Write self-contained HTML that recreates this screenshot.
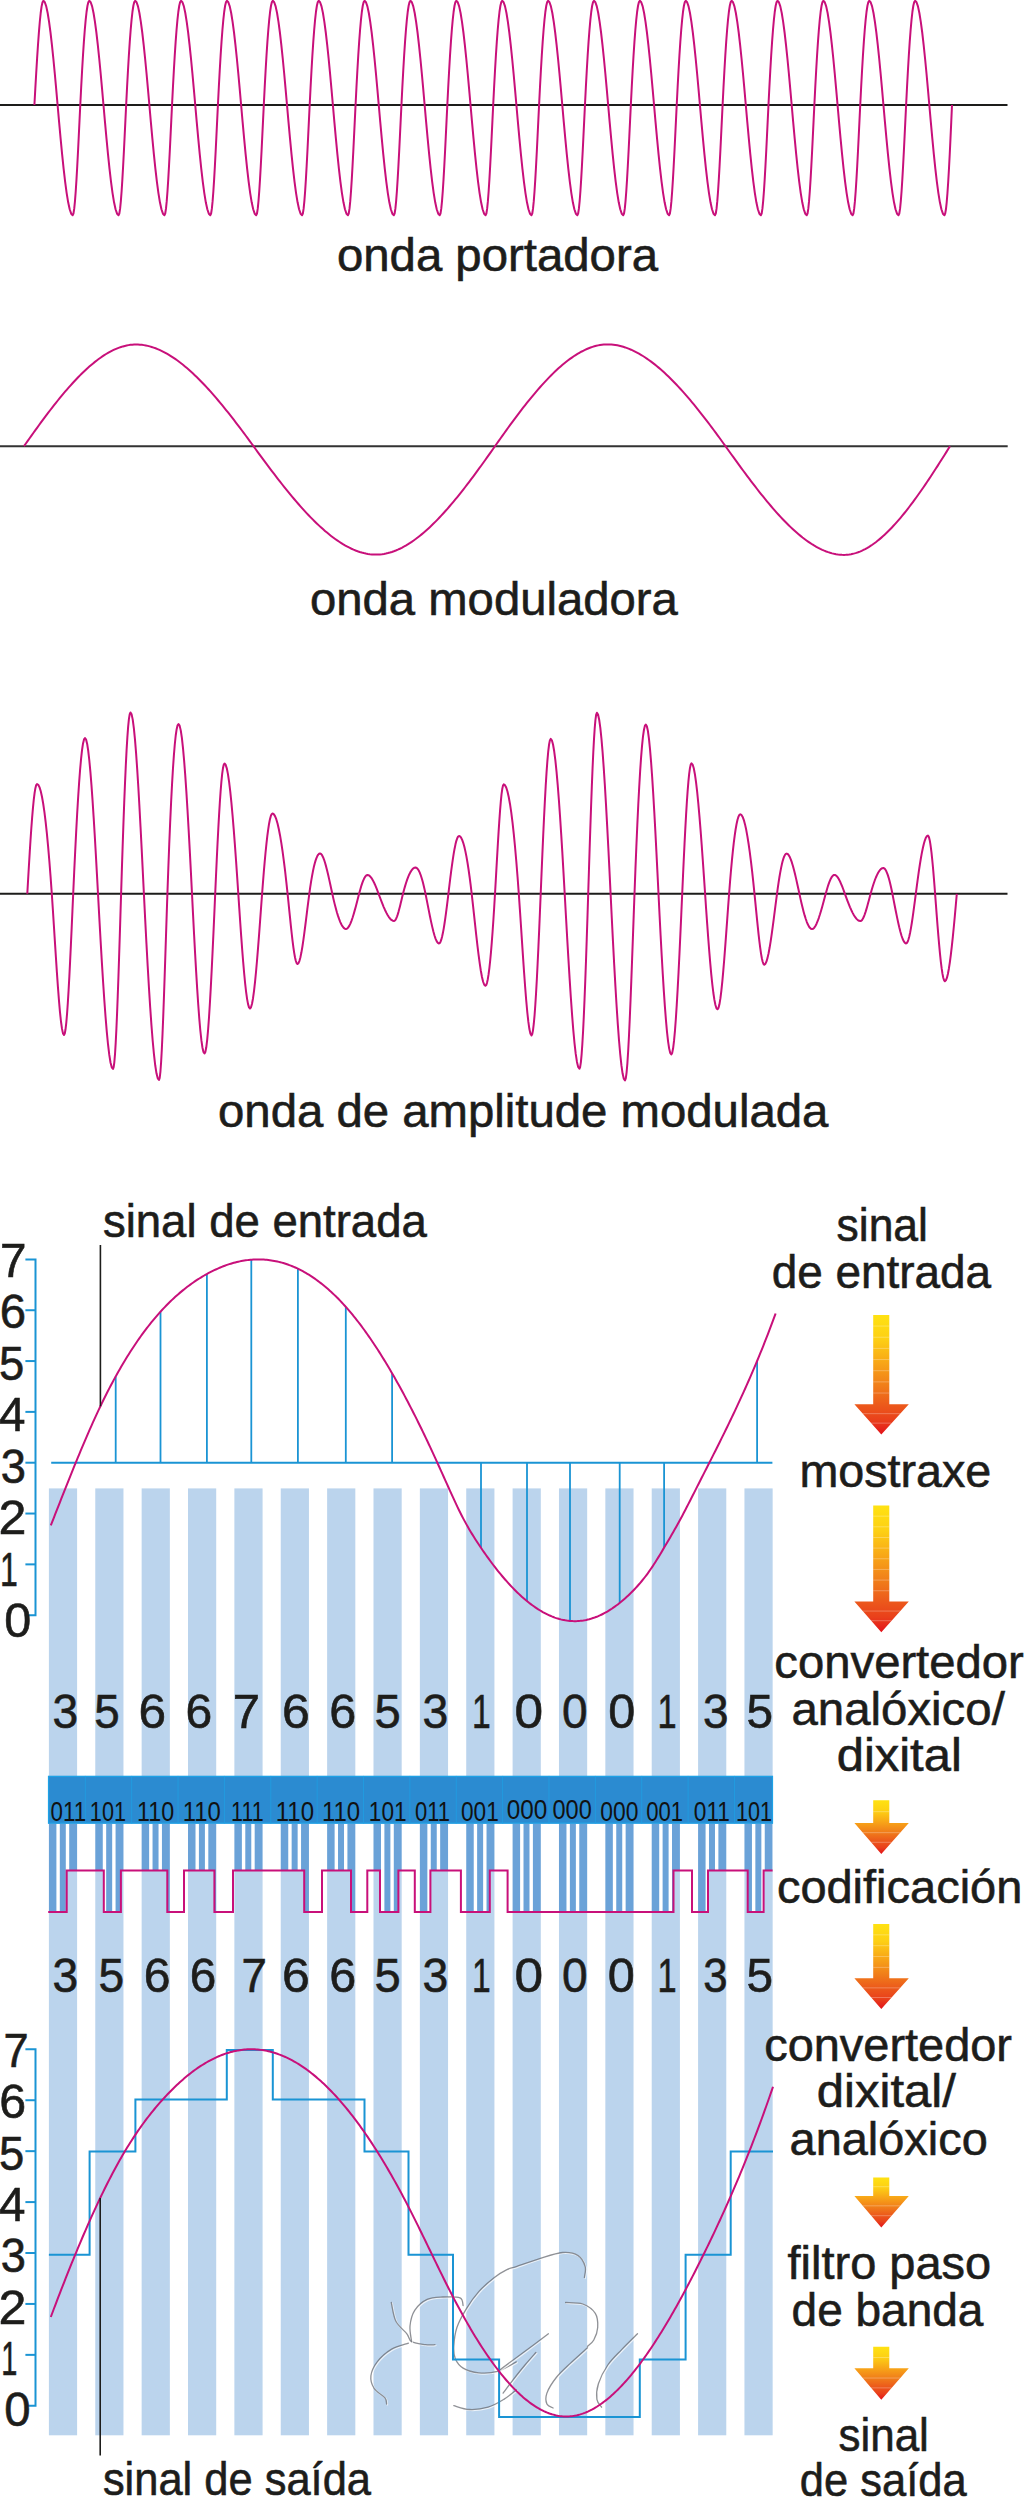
<!DOCTYPE html>
<html><head><meta charset="utf-8"><style>html,body{margin:0;padding:0;background:#fff;width:1024px;height:2499px;overflow:hidden}svg{display:block}</style></head>
<body><svg width="1024" height="2499" viewBox="0 0 1024 2499">
<defs></defs>
<rect width="1024" height="2499" fill="#fff"/>
<line x1="0" y1="105" x2="1007.5" y2="105" stroke="#1d1d1b" stroke-width="2"/>
<path d="M34.4 105 L35.3 88.82 L36.2 73.21 L37.1 58.43 L38 44.75 L38.9 32.44 L39.8 21.77 L40.7 13 L41.6 6.4 L42.5 2.24 L43.4 0.8 L44.82 2.25 L46.24 6.41 L47.66 13.02 L49.08 21.81 L50.5 32.5 L51.92 44.82 L53.34 58.5 L54.76 73.27 L56.18 88.86 L57.6 105 L59.11 122.15 L60.62 138.68 L62.13 154.32 L63.64 168.79 L65.15 181.8 L66.66 193.07 L68.17 202.33 L69.68 209.29 L71.19 213.68 L72.7 215.2 L73.46 213.5 L74.22 208.68 L74.97 201.13 L75.73 191.24 L76.49 179.41 L77.25 166.03 L78.01 151.51 L78.76 136.23 L79.52 120.6 L80.28 105 L81.18 87.23 L82.08 70.69 L82.98 55.53 L83.88 41.91 L84.78 29.97 L85.68 19.87 L86.58 11.75 L87.48 5.77 L88.38 2.07 L89.28 0.8 L90.7 2.25 L92.12 6.41 L93.54 13.02 L94.96 21.81 L96.38 32.5 L97.8 44.82 L99.22 58.5 L100.64 73.27 L102.06 88.86 L103.48 105 L104.99 122.15 L106.5 138.68 L108.01 154.32 L109.52 168.79 L111.03 181.8 L112.54 193.07 L114.05 202.33 L115.56 209.29 L117.07 213.68 L118.58 215.2 L119.34 213.5 L120.1 208.68 L120.85 201.13 L121.61 191.24 L122.37 179.41 L123.13 166.03 L123.89 151.51 L124.64 136.23 L125.4 120.6 L126.16 105 L127.06 87.23 L127.96 70.69 L128.86 55.53 L129.76 41.91 L130.66 29.97 L131.56 19.87 L132.46 11.75 L133.36 5.77 L134.26 2.07 L135.16 0.8 L136.58 2.25 L138 6.41 L139.42 13.02 L140.84 21.81 L142.26 32.5 L143.68 44.82 L145.1 58.5 L146.52 73.27 L147.94 88.86 L149.36 105 L150.87 122.15 L152.38 138.68 L153.89 154.32 L155.4 168.79 L156.91 181.8 L158.42 193.07 L159.93 202.33 L161.44 209.29 L162.95 213.68 L164.46 215.2 L165.22 213.5 L165.98 208.68 L166.73 201.13 L167.49 191.24 L168.25 179.41 L169.01 166.03 L169.77 151.51 L170.52 136.23 L171.28 120.6 L172.04 105 L172.94 87.23 L173.84 70.69 L174.74 55.53 L175.64 41.91 L176.54 29.97 L177.44 19.87 L178.34 11.75 L179.24 5.77 L180.14 2.07 L181.04 0.8 L182.46 2.25 L183.88 6.41 L185.3 13.02 L186.72 21.81 L188.14 32.5 L189.56 44.82 L190.98 58.5 L192.4 73.27 L193.82 88.86 L195.24 105 L196.75 122.15 L198.26 138.68 L199.77 154.32 L201.28 168.79 L202.79 181.8 L204.3 193.07 L205.81 202.33 L207.32 209.29 L208.83 213.68 L210.34 215.2 L211.1 213.5 L211.86 208.68 L212.61 201.13 L213.37 191.24 L214.13 179.41 L214.89 166.03 L215.65 151.51 L216.4 136.23 L217.16 120.6 L217.92 105 L218.82 87.23 L219.72 70.69 L220.62 55.53 L221.52 41.91 L222.42 29.97 L223.32 19.87 L224.22 11.75 L225.12 5.77 L226.02 2.07 L226.92 0.8 L228.34 2.25 L229.76 6.41 L231.18 13.02 L232.6 21.81 L234.02 32.5 L235.44 44.82 L236.86 58.5 L238.28 73.27 L239.7 88.86 L241.12 105 L242.63 122.15 L244.14 138.68 L245.65 154.32 L247.16 168.79 L248.67 181.8 L250.18 193.07 L251.69 202.33 L253.2 209.29 L254.71 213.68 L256.22 215.2 L256.98 213.5 L257.74 208.68 L258.49 201.13 L259.25 191.24 L260.01 179.41 L260.77 166.03 L261.53 151.51 L262.28 136.23 L263.04 120.6 L263.8 105 L264.7 87.23 L265.6 70.69 L266.5 55.53 L267.4 41.91 L268.3 29.97 L269.2 19.87 L270.1 11.75 L271 5.77 L271.9 2.07 L272.8 0.8 L274.22 2.25 L275.64 6.41 L277.06 13.02 L278.48 21.81 L279.9 32.5 L281.32 44.82 L282.74 58.5 L284.16 73.27 L285.58 88.86 L287 105 L288.51 122.15 L290.02 138.68 L291.53 154.32 L293.04 168.79 L294.55 181.8 L296.06 193.07 L297.57 202.33 L299.08 209.29 L300.59 213.68 L302.1 215.2 L302.86 213.5 L303.62 208.68 L304.37 201.13 L305.13 191.24 L305.89 179.41 L306.65 166.03 L307.41 151.51 L308.16 136.23 L308.92 120.6 L309.68 105 L310.58 87.23 L311.48 70.69 L312.38 55.53 L313.28 41.91 L314.18 29.97 L315.08 19.87 L315.98 11.75 L316.88 5.77 L317.78 2.07 L318.68 0.8 L320.1 2.25 L321.52 6.41 L322.94 13.02 L324.36 21.81 L325.78 32.5 L327.2 44.82 L328.62 58.5 L330.04 73.27 L331.46 88.86 L332.88 105 L334.39 122.15 L335.9 138.68 L337.41 154.32 L338.92 168.79 L340.43 181.8 L341.94 193.07 L343.45 202.33 L344.96 209.29 L346.47 213.68 L347.98 215.2 L348.74 213.5 L349.5 208.68 L350.25 201.13 L351.01 191.24 L351.77 179.41 L352.53 166.03 L353.29 151.51 L354.04 136.23 L354.8 120.6 L355.56 105 L356.46 87.23 L357.36 70.69 L358.26 55.53 L359.16 41.91 L360.06 29.97 L360.96 19.87 L361.86 11.75 L362.76 5.77 L363.66 2.07 L364.56 0.8 L365.98 2.25 L367.4 6.41 L368.82 13.02 L370.24 21.81 L371.66 32.5 L373.08 44.82 L374.5 58.5 L375.92 73.27 L377.34 88.86 L378.76 105 L380.27 122.15 L381.78 138.68 L383.29 154.32 L384.8 168.79 L386.31 181.8 L387.82 193.07 L389.33 202.33 L390.84 209.29 L392.35 213.68 L393.86 215.2 L394.62 213.5 L395.38 208.68 L396.13 201.13 L396.89 191.24 L397.65 179.41 L398.41 166.03 L399.17 151.51 L399.92 136.23 L400.68 120.6 L401.44 105 L402.34 87.23 L403.24 70.69 L404.14 55.53 L405.04 41.91 L405.94 29.97 L406.84 19.87 L407.74 11.75 L408.64 5.77 L409.54 2.07 L410.44 0.8 L411.86 2.25 L413.28 6.41 L414.7 13.02 L416.12 21.81 L417.54 32.5 L418.96 44.82 L420.38 58.5 L421.8 73.27 L423.22 88.86 L424.64 105 L426.15 122.15 L427.66 138.68 L429.17 154.32 L430.68 168.79 L432.19 181.8 L433.7 193.07 L435.21 202.33 L436.72 209.29 L438.23 213.68 L439.74 215.2 L440.5 213.5 L441.26 208.68 L442.01 201.13 L442.77 191.24 L443.53 179.41 L444.29 166.03 L445.05 151.51 L445.8 136.23 L446.56 120.6 L447.32 105 L448.22 87.23 L449.12 70.69 L450.02 55.53 L450.92 41.91 L451.82 29.97 L452.72 19.87 L453.62 11.75 L454.52 5.77 L455.42 2.07 L456.32 0.8 L457.74 2.25 L459.16 6.41 L460.58 13.02 L462 21.81 L463.42 32.5 L464.84 44.82 L466.26 58.5 L467.68 73.27 L469.1 88.86 L470.52 105 L472.03 122.15 L473.54 138.68 L475.05 154.32 L476.56 168.79 L478.07 181.8 L479.58 193.07 L481.09 202.33 L482.6 209.29 L484.11 213.68 L485.62 215.2 L486.38 213.5 L487.14 208.68 L487.89 201.13 L488.65 191.24 L489.41 179.41 L490.17 166.03 L490.93 151.51 L491.68 136.23 L492.44 120.6 L493.2 105 L494.1 87.23 L495 70.69 L495.9 55.53 L496.8 41.91 L497.7 29.97 L498.6 19.87 L499.5 11.75 L500.4 5.77 L501.3 2.07 L502.2 0.8 L503.62 2.25 L505.04 6.41 L506.46 13.02 L507.88 21.81 L509.3 32.5 L510.72 44.82 L512.14 58.5 L513.56 73.27 L514.98 88.86 L516.4 105 L517.91 122.15 L519.42 138.68 L520.93 154.32 L522.44 168.79 L523.95 181.8 L525.46 193.07 L526.97 202.33 L528.48 209.29 L529.99 213.68 L531.5 215.2 L532.26 213.5 L533.02 208.68 L533.77 201.13 L534.53 191.24 L535.29 179.41 L536.05 166.03 L536.81 151.51 L537.56 136.23 L538.32 120.6 L539.08 105 L539.98 87.23 L540.88 70.69 L541.78 55.53 L542.68 41.91 L543.58 29.97 L544.48 19.87 L545.38 11.75 L546.28 5.77 L547.18 2.07 L548.08 0.8 L549.5 2.25 L550.92 6.41 L552.34 13.02 L553.76 21.81 L555.18 32.5 L556.6 44.82 L558.02 58.5 L559.44 73.27 L560.86 88.86 L562.28 105 L563.79 122.15 L565.3 138.68 L566.81 154.32 L568.32 168.79 L569.83 181.8 L571.34 193.07 L572.85 202.33 L574.36 209.29 L575.87 213.68 L577.38 215.2 L578.14 213.5 L578.9 208.68 L579.65 201.13 L580.41 191.24 L581.17 179.41 L581.93 166.03 L582.69 151.51 L583.44 136.23 L584.2 120.6 L584.96 105 L585.86 87.23 L586.76 70.69 L587.66 55.53 L588.56 41.91 L589.46 29.97 L590.36 19.87 L591.26 11.75 L592.16 5.77 L593.06 2.07 L593.96 0.8 L595.38 2.25 L596.8 6.41 L598.22 13.02 L599.64 21.81 L601.06 32.5 L602.48 44.82 L603.9 58.5 L605.32 73.27 L606.74 88.86 L608.16 105 L609.67 122.15 L611.18 138.68 L612.69 154.32 L614.2 168.79 L615.71 181.8 L617.22 193.07 L618.73 202.33 L620.24 209.29 L621.75 213.68 L623.26 215.2 L624.02 213.5 L624.78 208.68 L625.53 201.13 L626.29 191.24 L627.05 179.41 L627.81 166.03 L628.57 151.51 L629.32 136.23 L630.08 120.6 L630.84 105 L631.74 87.23 L632.64 70.69 L633.54 55.53 L634.44 41.91 L635.34 29.97 L636.24 19.87 L637.14 11.75 L638.04 5.77 L638.94 2.07 L639.84 0.8 L641.26 2.25 L642.68 6.41 L644.1 13.02 L645.52 21.81 L646.94 32.5 L648.36 44.82 L649.78 58.5 L651.2 73.27 L652.62 88.86 L654.04 105 L655.55 122.15 L657.06 138.68 L658.57 154.32 L660.08 168.79 L661.59 181.8 L663.1 193.07 L664.61 202.33 L666.12 209.29 L667.63 213.68 L669.14 215.2 L669.9 213.5 L670.66 208.68 L671.41 201.13 L672.17 191.24 L672.93 179.41 L673.69 166.03 L674.45 151.51 L675.2 136.23 L675.96 120.6 L676.72 105 L677.62 87.23 L678.52 70.69 L679.42 55.53 L680.32 41.91 L681.22 29.97 L682.12 19.87 L683.02 11.75 L683.92 5.77 L684.82 2.07 L685.72 0.8 L687.14 2.25 L688.56 6.41 L689.98 13.02 L691.4 21.81 L692.82 32.5 L694.24 44.82 L695.66 58.5 L697.08 73.27 L698.5 88.86 L699.92 105 L701.43 122.15 L702.94 138.68 L704.45 154.32 L705.96 168.79 L707.47 181.8 L708.98 193.07 L710.49 202.33 L712 209.29 L713.51 213.68 L715.02 215.2 L715.78 213.5 L716.54 208.68 L717.29 201.13 L718.05 191.24 L718.81 179.41 L719.57 166.03 L720.33 151.51 L721.08 136.23 L721.84 120.6 L722.6 105 L723.5 87.23 L724.4 70.69 L725.3 55.53 L726.2 41.91 L727.1 29.97 L728 19.87 L728.9 11.75 L729.8 5.77 L730.7 2.07 L731.6 0.8 L733.02 2.25 L734.44 6.41 L735.86 13.02 L737.28 21.81 L738.7 32.5 L740.12 44.82 L741.54 58.5 L742.96 73.27 L744.38 88.86 L745.8 105 L747.31 122.15 L748.82 138.68 L750.33 154.32 L751.84 168.79 L753.35 181.8 L754.86 193.07 L756.37 202.33 L757.88 209.29 L759.39 213.68 L760.9 215.2 L761.66 213.5 L762.42 208.68 L763.17 201.13 L763.93 191.24 L764.69 179.41 L765.45 166.03 L766.21 151.51 L766.96 136.23 L767.72 120.6 L768.48 105 L769.38 87.23 L770.28 70.69 L771.18 55.53 L772.08 41.91 L772.98 29.97 L773.88 19.87 L774.78 11.75 L775.68 5.77 L776.58 2.07 L777.48 0.8 L778.9 2.25 L780.32 6.41 L781.74 13.02 L783.16 21.81 L784.58 32.5 L786 44.82 L787.42 58.5 L788.84 73.27 L790.26 88.86 L791.68 105 L793.19 122.15 L794.7 138.68 L796.21 154.32 L797.72 168.79 L799.23 181.8 L800.74 193.07 L802.25 202.33 L803.76 209.29 L805.27 213.68 L806.78 215.2 L807.54 213.5 L808.3 208.68 L809.05 201.13 L809.81 191.24 L810.57 179.41 L811.33 166.03 L812.09 151.51 L812.84 136.23 L813.6 120.6 L814.36 105 L815.26 87.23 L816.16 70.69 L817.06 55.53 L817.96 41.91 L818.86 29.97 L819.76 19.87 L820.66 11.75 L821.56 5.77 L822.46 2.07 L823.36 0.8 L824.78 2.25 L826.2 6.41 L827.62 13.02 L829.04 21.81 L830.46 32.5 L831.88 44.82 L833.3 58.5 L834.72 73.27 L836.14 88.86 L837.56 105 L839.07 122.15 L840.58 138.68 L842.09 154.32 L843.6 168.79 L845.11 181.8 L846.62 193.07 L848.13 202.33 L849.64 209.29 L851.15 213.68 L852.66 215.2 L853.42 213.5 L854.18 208.68 L854.93 201.13 L855.69 191.24 L856.45 179.41 L857.21 166.03 L857.97 151.51 L858.72 136.23 L859.48 120.6 L860.24 105 L861.14 87.23 L862.04 70.69 L862.94 55.53 L863.84 41.91 L864.74 29.97 L865.64 19.87 L866.54 11.75 L867.44 5.77 L868.34 2.07 L869.24 0.8 L870.66 2.25 L872.08 6.41 L873.5 13.02 L874.92 21.81 L876.34 32.5 L877.76 44.82 L879.18 58.5 L880.6 73.27 L882.02 88.86 L883.44 105 L884.95 122.15 L886.46 138.68 L887.97 154.32 L889.48 168.79 L890.99 181.8 L892.5 193.07 L894.01 202.33 L895.52 209.29 L897.03 213.68 L898.54 215.2 L899.3 213.5 L900.06 208.68 L900.81 201.13 L901.57 191.24 L902.33 179.41 L903.09 166.03 L903.85 151.51 L904.6 136.23 L905.36 120.6 L906.12 105 L907.02 87.23 L907.92 70.69 L908.82 55.53 L909.72 41.91 L910.62 29.97 L911.52 19.87 L912.42 11.75 L913.32 5.77 L914.22 2.07 L915.12 0.8 L916.54 2.25 L917.96 6.41 L919.38 13.02 L920.8 21.81 L922.22 32.5 L923.64 44.82 L925.06 58.5 L926.48 73.27 L927.9 88.86 L929.32 105 L930.83 122.15 L932.34 138.68 L933.85 154.32 L935.36 168.79 L936.87 181.8 L938.38 193.07 L939.89 202.33 L941.4 209.29 L942.91 213.68 L944.42 215.2 L945.18 213.67 L945.94 209.28 L946.69 202.3 L947.45 193.03 L948.21 181.74 L948.97 168.72 L949.73 154.25 L950.48 138.62 L951.24 122.11 L952 105" fill="none" stroke="#c8107a" stroke-width="2" stroke-linejoin="round"/>
<line x1="0" y1="446.2" x2="1007.7" y2="446.2" stroke="#333" stroke-width="2"/>
<path d="M24 446.2 L25.87 443.54 L27.73 440.89 L29.6 438.25 L31.47 435.63 L33.33 433.01 L35.2 430.41 L37.07 427.83 L38.93 425.26 L40.8 422.71 L42.67 420.18 L44.53 417.67 L46.4 415.18 L48.27 412.71 L50.13 410.26 L52 407.84 L53.87 405.45 L55.73 403.09 L57.6 400.75 L59.47 398.44 L61.33 396.17 L63.2 393.92 L65.07 391.71 L66.93 389.54 L68.8 387.4 L70.67 385.3 L72.53 383.23 L74.4 381.21 L76.27 379.22 L78.13 377.28 L80 375.38 L81.87 373.53 L83.73 371.72 L85.6 369.96 L87.47 368.24 L89.33 366.58 L91.2 364.96 L93.07 363.4 L94.93 361.89 L96.8 360.43 L98.67 359.03 L100.53 357.69 L102.4 356.4 L104.27 355.18 L106.13 354.01 L108 352.9 L109.87 351.86 L111.73 350.88 L113.6 349.96 L115.47 349.12 L117.33 348.34 L119.2 347.62 L121.07 346.98 L122.93 346.41 L124.8 345.91 L126.67 345.48 L128.53 345.13 L130.4 344.86 L132.27 344.66 L134.13 344.54 L136 344.5 L137.96 344.54 L139.92 344.66 L141.88 344.85 L143.83 345.13 L145.79 345.47 L147.75 345.89 L149.71 346.39 L151.67 346.95 L153.62 347.59 L155.58 348.29 L157.54 349.07 L159.5 349.91 L161.46 350.81 L163.42 351.78 L165.38 352.82 L167.33 353.92 L169.29 355.07 L171.25 356.29 L173.21 357.57 L175.17 358.9 L177.12 360.29 L179.08 361.74 L181.04 363.24 L183 364.79 L184.96 366.4 L186.92 368.05 L188.88 369.76 L190.83 371.51 L192.79 373.31 L194.75 375.16 L196.71 377.05 L198.67 378.99 L200.62 380.96 L202.58 382.98 L204.54 385.04 L206.5 387.14 L208.46 389.28 L210.42 391.45 L212.38 393.66 L214.33 395.9 L216.29 398.18 L218.25 400.49 L220.21 402.83 L222.17 405.2 L224.12 407.59 L226.08 410.02 L228.04 412.47 L230 414.95 L231.96 417.45 L233.92 419.97 L235.88 422.52 L237.83 425.08 L239.79 427.67 L241.75 430.27 L243.71 432.89 L245.67 435.52 L247.62 438.17 L249.58 440.84 L251.54 443.51 L253.5 446.2 L255.54 449 L257.58 451.8 L259.62 454.58 L261.67 457.36 L263.71 460.12 L265.75 462.88 L267.79 465.61 L269.83 468.33 L271.88 471.04 L273.92 473.72 L275.96 476.39 L278 479.03 L280.04 481.65 L282.08 484.25 L284.12 486.82 L286.17 489.36 L288.21 491.88 L290.25 494.37 L292.29 496.83 L294.33 499.25 L296.38 501.64 L298.42 504 L300.46 506.32 L302.5 508.61 L304.54 510.85 L306.58 513.06 L308.62 515.22 L310.67 517.34 L312.71 519.42 L314.75 521.45 L316.79 523.43 L318.83 525.37 L320.88 527.26 L322.92 529.09 L324.96 530.88 L327 532.61 L329.04 534.29 L331.08 535.91 L333.12 537.47 L335.17 538.97 L337.21 540.41 L339.25 541.79 L341.29 543.11 L343.33 544.37 L345.38 545.56 L347.42 546.68 L349.46 547.73 L351.5 548.72 L353.54 549.63 L355.58 550.47 L357.62 551.24 L359.67 551.93 L361.71 552.54 L363.75 553.08 L365.79 553.54 L367.83 553.92 L369.88 554.21 L371.92 554.43 L373.96 554.56 L376 554.6 L377.98 554.56 L379.97 554.43 L381.95 554.22 L383.93 553.92 L385.92 553.55 L387.9 553.09 L389.88 552.56 L391.87 551.95 L393.85 551.26 L395.83 550.5 L397.82 549.66 L399.8 548.76 L401.78 547.78 L403.77 546.73 L405.75 545.62 L407.73 544.44 L409.72 543.19 L411.7 541.88 L413.68 540.5 L415.67 539.07 L417.65 537.57 L419.63 536.02 L421.62 534.4 L423.6 532.74 L425.58 531.01 L427.57 529.23 L429.55 527.4 L431.53 525.52 L433.52 523.59 L435.5 521.61 L437.48 519.59 L439.47 517.52 L441.45 515.4 L443.43 513.24 L445.42 511.04 L447.4 508.79 L449.38 506.51 L451.37 504.19 L453.35 501.84 L455.33 499.45 L457.32 497.02 L459.3 494.56 L461.28 492.07 L463.27 489.55 L465.25 487 L467.23 484.43 L469.22 481.82 L471.2 479.2 L473.18 476.55 L475.17 473.87 L477.15 471.18 L479.13 468.46 L481.12 465.73 L483.1 462.98 L485.08 460.22 L487.07 457.44 L489.05 454.64 L491.03 451.84 L493.02 449.02 L495 446.2 L496.88 443.53 L498.75 440.87 L500.62 438.22 L502.5 435.59 L504.38 432.96 L506.25 430.35 L508.12 427.76 L510 425.19 L511.88 422.63 L513.75 420.09 L515.62 417.57 L517.5 415.08 L519.38 412.6 L521.25 410.16 L523.12 407.73 L525 405.34 L526.88 402.97 L528.75 400.63 L530.62 398.32 L532.5 396.04 L534.38 393.79 L536.25 391.58 L538.12 389.4 L540 387.26 L541.88 385.16 L543.75 383.09 L545.62 381.07 L547.5 379.09 L549.38 377.14 L551.25 375.25 L553.12 373.39 L555 371.58 L556.88 369.82 L558.75 368.11 L560.62 366.44 L562.5 364.83 L564.38 363.27 L566.25 361.76 L568.12 360.31 L570 358.91 L571.88 357.57 L573.75 356.28 L575.62 355.06 L577.5 353.89 L579.38 352.79 L581.25 351.74 L583.12 350.77 L585 349.85 L586.88 349.01 L588.75 348.23 L590.62 347.52 L592.5 346.87 L594.38 346.3 L596.25 345.81 L598.12 345.38 L600 345.03 L601.88 344.76 L603.75 344.56 L605.62 344.44 L607.5 344.4 L609.47 344.44 L611.43 344.55 L613.4 344.75 L615.37 345.01 L617.33 345.35 L619.3 345.77 L621.27 346.25 L623.23 346.81 L625.2 347.43 L627.17 348.12 L629.13 348.88 L631.1 349.71 L633.07 350.6 L635.03 351.56 L637 352.58 L638.97 353.66 L640.93 354.8 L642.9 356 L644.87 357.26 L646.83 358.58 L648.8 359.95 L650.77 361.38 L652.73 362.87 L654.7 364.4 L656.67 365.99 L658.63 367.63 L660.6 369.33 L662.57 371.07 L664.53 372.85 L666.5 374.69 L668.47 376.57 L670.43 378.5 L672.4 380.46 L674.37 382.48 L676.33 384.53 L678.3 386.62 L680.27 388.76 L682.23 390.93 L684.2 393.13 L686.17 395.38 L688.13 397.66 L690.1 399.97 L692.07 402.32 L694.03 404.7 L696 407.11 L697.97 409.54 L699.93 412.01 L701.9 414.51 L703.87 417.03 L705.83 419.57 L707.8 422.15 L709.77 424.74 L711.73 427.36 L713.7 429.99 L715.67 432.65 L717.63 435.33 L719.6 438.02 L721.57 440.73 L723.53 443.46 L725.5 446.2 L727.48 448.96 L729.45 451.71 L731.42 454.46 L733.4 457.2 L735.38 459.93 L737.35 462.66 L739.33 465.37 L741.3 468.07 L743.27 470.75 L745.25 473.42 L747.23 476.07 L749.2 478.7 L751.17 481.31 L753.15 483.9 L755.12 486.47 L757.1 489.01 L759.08 491.53 L761.05 494.02 L763.02 496.48 L765 498.91 L766.98 501.31 L768.95 503.68 L770.92 506.01 L772.9 508.31 L774.88 510.57 L776.85 512.79 L778.83 514.97 L780.8 517.1 L782.77 519.2 L784.75 521.25 L786.73 523.25 L788.7 525.21 L790.67 527.12 L792.65 528.98 L794.62 530.78 L796.6 532.53 L798.58 534.23 L800.55 535.87 L802.52 537.46 L804.5 538.98 L806.48 540.45 L808.45 541.85 L810.42 543.19 L812.4 544.47 L814.38 545.68 L816.35 546.82 L818.33 547.89 L820.3 548.89 L822.27 549.82 L824.25 550.68 L826.23 551.46 L828.2 552.17 L830.17 552.8 L832.15 553.35 L834.12 553.82 L836.1 554.2 L838.08 554.51 L840.05 554.72 L842.02 554.86 L844 554.9 L845.77 554.86 L847.53 554.73 L849.3 554.52 L851.07 554.22 L852.83 553.85 L854.6 553.39 L856.37 552.86 L858.13 552.25 L859.9 551.56 L861.67 550.8 L863.43 549.97 L865.2 549.06 L866.97 548.08 L868.73 547.03 L870.5 545.92 L872.27 544.74 L874.03 543.49 L875.8 542.18 L877.57 540.8 L879.33 539.37 L881.1 537.87 L882.87 536.31 L884.63 534.7 L886.4 533.03 L888.17 531.3 L889.93 529.52 L891.7 527.69 L893.47 525.81 L895.23 523.88 L897 521.89 L898.77 519.86 L900.53 517.79 L902.3 515.67 L904.07 513.5 L905.83 511.3 L907.6 509.05 L909.37 506.76 L911.13 504.44 L912.9 502.08 L914.67 499.68 L916.43 497.24 L918.2 494.78 L919.97 492.28 L921.73 489.75 L923.5 487.2 L925.27 484.61 L927.03 482 L928.8 479.36 L930.57 476.7 L932.33 474.01 L934.1 471.31 L935.87 468.58 L937.63 465.84 L939.4 463.07 L941.17 460.29 L942.93 457.5 L944.7 454.69 L946.47 451.87 L948.23 449.04 L950 446.2" fill="none" stroke="#c8107a" stroke-width="2"/>
<line x1="0" y1="893.8" x2="1007.5" y2="893.8" stroke="#1d1d1b" stroke-width="2"/>
<path d="M27.3 893.8 L28.11 879.56 L28.92 865.7 L29.73 852.39 L30.53 839.78 L31.34 828.04 L32.15 817.34 L32.96 807.84 L33.77 799.69 L34.58 793.07 L35.38 788.14 L36.19 785.06 L37 784 L38.23 784.79 L39.47 787.15 L40.7 791.06 L41.93 796.51 L43.17 803.49 L44.4 811.97 L45.63 821.95 L46.87 833.42 L48.1 846.35 L49.33 860.73 L50.57 876.56 L51.8 893.8 L52.82 909.01 L53.83 924.81 L54.85 940.83 L55.87 956.72 L56.88 972.09 L57.9 986.6 L58.92 999.87 L59.93 1011.55 L60.95 1021.26 L61.97 1028.65 L62.98 1033.35 L64 1035 L64.77 1033.53 L65.53 1029.3 L66.3 1022.58 L67.07 1013.63 L67.83 1002.72 L68.6 990.11 L69.37 976.08 L70.13 960.88 L70.9 944.79 L71.67 928.07 L72.43 910.98 L73.2 893.8 L74.18 872.26 L75.17 851.72 L76.15 832.35 L77.13 814.32 L78.12 797.78 L79.1 782.92 L80.08 769.88 L81.07 758.85 L82.05 749.98 L83.03 743.43 L84.02 739.39 L85 738 L86.08 739.53 L87.17 743.95 L88.25 751.02 L89.33 760.5 L90.42 772.14 L91.5 785.7 L92.58 800.94 L93.67 817.61 L94.75 835.48 L95.83 854.3 L96.92 873.82 L98 893.8 L99.25 916.77 L100.5 939.04 L101.75 960.38 L103 980.52 L104.25 999.23 L105.5 1016.25 L106.75 1031.33 L108 1044.23 L109.25 1054.69 L110.5 1062.48 L111.75 1067.33 L113 1069 L113.67 1067.21 L114.35 1062.04 L115.03 1053.81 L115.7 1042.83 L116.38 1029.42 L117.05 1013.88 L117.72 996.55 L118.4 977.72 L119.07 957.72 L119.75 936.86 L120.42 915.44 L121.1 893.8 L121.88 869.11 L122.67 845.46 L123.45 823.06 L124.23 802.12 L125.02 782.84 L125.8 765.45 L126.58 750.16 L127.37 737.16 L128.15 726.69 L128.93 718.95 L129.72 714.15 L130.5 712.5 L131.62 714.34 L132.73 719.64 L133.85 728.08 L134.97 739.36 L136.08 753.16 L137.2 769.17 L138.32 787.06 L139.43 806.52 L140.55 827.24 L141.67 848.9 L142.78 871.2 L143.9 893.8 L145.16 918.92 L146.42 943.05 L147.68 965.98 L148.93 987.46 L150.19 1007.28 L151.45 1025.2 L152.71 1040.99 L153.97 1054.42 L155.22 1065.27 L156.48 1073.3 L157.74 1078.29 L159 1080 L159.7 1077.88 L160.4 1071.83 L161.1 1062.3 L161.8 1049.72 L162.5 1034.57 L163.2 1017.27 L163.9 998.29 L164.6 978.07 L165.3 957.06 L166 935.71 L166.7 914.48 L167.4 893.8 L168.33 867.98 L169.25 844.06 L170.18 822.12 L171.1 802.21 L172.03 784.41 L172.95 768.77 L173.88 755.36 L174.8 744.24 L175.72 735.48 L176.65 729.15 L177.57 725.3 L178.5 724 L179.62 725.63 L180.75 730.36 L181.88 737.93 L183 748.11 L184.12 760.65 L185.25 775.3 L186.38 791.82 L187.5 809.95 L188.62 829.47 L189.75 850.11 L190.88 871.64 L192 893.8 L193.04 914.37 L194.08 934.44 L195.12 953.76 L196.17 972.08 L197.21 989.16 L198.25 1004.76 L199.29 1018.63 L200.33 1030.53 L201.38 1040.21 L202.42 1047.43 L203.46 1051.94 L204.5 1053.5 L205.39 1051.9 L206.28 1047.3 L207.18 1039.94 L208.07 1030.1 L208.96 1018.04 L209.85 1004.03 L210.74 988.33 L211.63 971.21 L212.52 952.93 L213.42 933.76 L214.31 913.96 L215.2 893.8 L215.97 876.44 L216.75 859.7 L217.52 843.73 L218.3 828.72 L219.07 814.84 L219.85 802.24 L220.62 791.12 L221.4 781.63 L222.18 773.96 L222.95 768.26 L223.72 764.72 L224.5 763.5 L225.65 764.74 L226.8 768.32 L227.95 774.08 L229.1 781.83 L230.25 791.39 L231.4 802.58 L232.55 815.22 L233.7 829.12 L234.85 844.11 L236 860.01 L237.15 876.63 L238.3 893.8 L239.28 908.44 L240.25 922.76 L241.23 936.59 L242.2 949.73 L243.18 962.01 L244.15 973.25 L245.12 983.26 L246.1 991.86 L247.07 998.87 L248.05 1004.1 L249.03 1007.37 L250 1008.5 L251.01 1007.28 L252.02 1003.77 L253.03 998.2 L254.03 990.81 L255.04 981.82 L256.05 971.48 L257.06 960 L258.07 947.63 L259.08 934.59 L260.08 921.12 L261.09 907.44 L262.1 893.8 L262.97 882.43 L263.83 871.68 L264.7 861.6 L265.57 852.28 L266.43 843.78 L267.3 836.18 L268.17 829.55 L269.03 823.97 L269.9 819.5 L270.77 816.21 L271.63 814.19 L272.5 813.5 L273.76 814.15 L275.02 816.08 L276.27 819.22 L277.53 823.53 L278.79 828.95 L280.05 835.44 L281.31 842.94 L282.57 851.4 L283.83 860.77 L285.08 870.99 L286.34 882.02 L287.6 893.8 L288.43 901.87 L289.25 910.05 L290.08 918.2 L290.9 926.15 L291.73 933.75 L292.55 940.84 L293.38 947.26 L294.2 952.87 L295.02 957.51 L295.85 961.01 L296.68 963.23 L297.5 964 L298.48 963.18 L299.47 960.83 L300.45 957.14 L301.43 952.3 L302.42 946.48 L303.4 939.87 L304.38 932.65 L305.37 925 L306.35 917.11 L307.33 909.15 L308.32 901.32 L309.3 893.8 L310.19 887.44 L311.08 881.61 L311.98 876.32 L312.87 871.57 L313.76 867.36 L314.65 863.71 L315.54 860.6 L316.43 858.05 L317.32 856.07 L318.22 854.64 L319.11 853.79 L320 853.5 L321.02 853.94 L322.05 855.19 L323.07 857.17 L324.1 859.8 L325.12 862.98 L326.15 866.64 L327.18 870.69 L328.2 875.05 L329.23 879.62 L330.25 884.33 L331.28 889.08 L332.3 893.8 L333.44 898.86 L334.58 903.63 L335.73 908.08 L336.87 912.18 L338.01 915.89 L339.15 919.2 L340.29 922.08 L341.43 924.5 L342.57 926.43 L343.72 927.84 L344.86 928.7 L346 929 L347.09 928.63 L348.18 927.56 L349.27 925.87 L350.37 923.61 L351.46 920.87 L352.55 917.71 L353.64 914.2 L354.73 910.4 L355.83 906.4 L356.92 902.25 L358.01 898.03 L359.1 893.8 L359.8 891.16 L360.5 888.66 L361.2 886.31 L361.9 884.13 L362.6 882.14 L363.3 880.36 L364 878.79 L364.7 877.48 L365.4 876.42 L366.1 875.64 L366.8 875.16 L367.5 875 L368.43 875.18 L369.35 875.69 L370.27 876.52 L371.2 877.64 L372.12 879.02 L373.05 880.63 L373.98 882.45 L374.9 884.46 L375.83 886.62 L376.75 888.92 L377.68 891.32 L378.6 893.8 L379.88 897.26 L381.17 900.66 L382.45 903.93 L383.73 907.05 L385.02 909.96 L386.3 912.63 L387.58 915.01 L388.87 917.05 L390.15 918.71 L391.43 919.95 L392.72 920.73 L394 921 L394.75 920.69 L395.5 919.81 L396.25 918.42 L397 916.59 L397.75 914.38 L398.5 911.86 L399.25 909.09 L400 906.13 L400.75 903.06 L401.5 899.94 L402.25 896.83 L403 893.8 L404.04 889.82 L405.08 886.12 L406.12 882.73 L407.17 879.65 L408.21 876.89 L409.25 874.46 L410.29 872.38 L411.33 870.65 L412.38 869.29 L413.42 868.3 L414.46 867.7 L415.5 867.5 L416.33 867.71 L417.17 868.32 L418 869.32 L418.83 870.7 L419.67 872.44 L420.5 874.54 L421.33 876.98 L422.17 879.74 L423 882.82 L423.83 886.19 L424.67 889.86 L425.5 893.8 L426.62 899.4 L427.75 905.12 L428.88 910.84 L430 916.46 L431.12 921.85 L432.25 926.9 L433.38 931.49 L434.5 935.5 L435.62 938.83 L436.75 941.35 L437.88 942.94 L439 943.5 L439.78 943.03 L440.57 941.65 L441.35 939.45 L442.13 936.49 L442.92 932.83 L443.7 928.56 L444.48 923.74 L445.27 918.43 L446.05 912.71 L446.83 906.66 L447.62 900.33 L448.4 893.8 L449.28 886.4 L450.17 879.17 L451.05 872.2 L451.93 865.57 L452.82 859.38 L453.7 853.72 L454.58 848.69 L455.47 844.36 L456.35 840.84 L457.23 838.21 L458.12 836.57 L459 836 L460.06 836.44 L461.12 837.73 L462.18 839.86 L463.23 842.82 L464.29 846.57 L465.35 851.11 L466.41 856.42 L467.47 862.48 L468.52 869.26 L469.58 876.75 L470.64 884.94 L471.7 893.8 L472.84 903.94 L473.98 914.38 L475.12 924.91 L476.27 935.28 L477.41 945.27 L478.55 954.67 L479.69 963.24 L480.83 970.76 L481.97 977 L483.12 981.74 L484.26 984.75 L485.4 985.8 L486.2 985.04 L487 982.82 L487.8 979.18 L488.6 974.21 L489.4 967.96 L490.2 960.49 L491 951.88 L491.8 942.18 L492.6 931.45 L493.4 919.77 L494.2 907.2 L495 893.8 L495.73 881.14 L496.45 868.33 L497.18 855.61 L497.9 843.21 L498.62 831.38 L499.35 820.35 L500.07 810.36 L500.8 801.65 L501.52 794.46 L502.25 789.03 L502.97 785.6 L503.7 784.4 L504.96 785.2 L506.22 787.57 L507.47 791.5 L508.73 796.97 L509.99 803.96 L511.25 812.45 L512.51 822.42 L513.77 833.85 L515.02 846.73 L516.28 861.02 L517.54 876.72 L518.8 893.8 L519.86 909.14 L520.92 925.04 L521.97 941.14 L523.03 957.07 L524.09 972.49 L525.15 987.01 L526.21 1000.29 L527.27 1011.97 L528.33 1021.68 L529.38 1029.06 L530.44 1033.76 L531.5 1035.4 L532.27 1034.03 L533.03 1030.08 L533.8 1023.73 L534.57 1015.22 L535.33 1004.73 L536.1 992.49 L536.87 978.7 L537.63 963.57 L538.4 947.3 L539.17 930.11 L539.93 912.21 L540.7 893.8 L541.53 873.77 L542.37 854.25 L543.2 835.49 L544.03 817.71 L544.87 801.15 L545.7 786.03 L546.53 772.6 L547.37 761.09 L548.2 751.73 L549.03 744.76 L549.87 740.4 L550.7 738.9 L551.87 740.34 L553.03 744.53 L554.2 751.27 L555.37 760.36 L556.53 771.61 L557.7 784.8 L558.87 799.75 L560.03 816.25 L561.2 834.1 L562.37 853.11 L563.53 873.08 L564.7 893.8 L565.93 915.8 L567.15 937.44 L568.38 958.41 L569.6 978.43 L570.83 997.2 L572.05 1014.43 L573.27 1029.81 L574.5 1043.06 L575.73 1053.88 L576.95 1061.97 L578.17 1067.04 L579.4 1068.8 L580.13 1067.15 L580.87 1062.35 L581.6 1054.64 L582.33 1044.26 L583.07 1031.45 L583.8 1016.45 L584.53 999.49 L585.27 980.82 L586 960.68 L586.73 939.31 L587.47 916.93 L588.2 893.8 L588.93 870.77 L589.65 848.22 L590.38 826.43 L591.1 805.69 L591.83 786.3 L592.55 768.55 L593.27 752.73 L594 739.14 L594.73 728.05 L595.45 719.77 L596.17 714.59 L596.9 712.8 L598.04 714.57 L599.18 719.69 L600.33 727.88 L601.47 738.86 L602.61 752.36 L603.75 768.09 L604.89 785.78 L606.03 805.15 L607.17 825.91 L608.32 847.79 L609.46 870.52 L610.6 893.8 L611.8 918.2 L613 941.89 L614.2 964.6 L615.4 986.06 L616.6 1006 L617.8 1024.16 L619 1040.25 L620.2 1054.03 L621.4 1065.21 L622.6 1073.52 L623.8 1078.71 L625 1080.5 L625.79 1078.46 L626.58 1072.6 L627.38 1063.33 L628.17 1051.06 L628.96 1036.2 L629.75 1019.16 L630.54 1000.33 L631.33 980.14 L632.12 958.98 L632.92 937.27 L633.71 915.4 L634.5 893.8 L635.44 869.14 L636.38 846.01 L637.33 824.52 L638.27 804.78 L639.21 786.93 L640.15 771.08 L641.09 757.34 L642.03 745.83 L642.97 736.68 L643.92 729.99 L644.86 725.89 L645.8 724.5 L646.86 726.19 L647.92 731.07 L648.97 738.86 L650.03 749.28 L651.09 762.05 L652.15 776.89 L653.21 793.53 L654.27 811.67 L655.33 831.05 L656.38 851.39 L657.44 872.4 L658.5 893.8 L659.57 915.18 L660.63 935.81 L661.7 955.49 L662.77 974 L663.83 991.13 L664.9 1006.66 L665.97 1020.39 L667.03 1032.1 L668.1 1041.58 L669.17 1048.62 L670.23 1052.99 L671.3 1054.5 L672.21 1052.91 L673.12 1048.3 L674.02 1040.93 L674.93 1031.08 L675.84 1018.99 L676.75 1004.93 L677.66 989.16 L678.57 971.95 L679.48 953.54 L680.38 934.21 L681.29 914.21 L682.2 893.8 L682.98 876.52 L683.75 859.81 L684.53 843.86 L685.3 828.84 L686.08 814.92 L686.85 802.29 L687.62 791.11 L688.4 781.57 L689.17 773.84 L689.95 768.1 L690.73 764.53 L691.5 763.3 L692.63 764.58 L693.77 768.29 L694.9 774.22 L696.03 782.17 L697.17 791.93 L698.3 803.3 L699.43 816.08 L700.57 830.05 L701.7 845.01 L702.83 860.76 L703.97 877.09 L705.1 893.8 L706.13 908.97 L707.17 923.67 L708.2 937.74 L709.23 951.03 L710.27 963.35 L711.3 974.57 L712.33 984.5 L713.37 993 L714.4 999.88 L715.43 1005.01 L716.47 1008.2 L717.5 1009.3 L718.47 1008 L719.43 1004.29 L720.4 998.43 L721.37 990.7 L722.33 981.37 L723.3 970.7 L724.27 958.97 L725.23 946.44 L726.2 933.39 L727.17 920.09 L728.13 906.8 L729.1 893.8 L730.03 881.88 L730.97 870.79 L731.9 860.58 L732.83 851.28 L733.77 842.93 L734.7 835.56 L735.63 829.23 L736.57 823.96 L737.5 819.79 L738.43 816.77 L739.37 814.92 L740.3 814.3 L741.48 814.96 L742.67 816.9 L743.85 820.07 L745.03 824.4 L746.22 829.83 L747.4 836.31 L748.58 843.77 L749.77 852.16 L750.95 861.42 L752.13 871.48 L753.32 882.3 L754.5 893.8 L755.32 902.06 L756.13 910.39 L756.95 918.66 L757.77 926.7 L758.58 934.36 L759.4 941.5 L760.22 947.95 L761.03 953.58 L761.85 958.21 L762.67 961.72 L763.48 963.93 L764.3 964.7 L765.36 963.92 L766.42 961.68 L767.47 958.14 L768.53 953.46 L769.59 947.8 L770.65 941.31 L771.71 934.15 L772.77 926.47 L773.83 918.44 L774.88 910.22 L775.94 901.95 L777 893.8 L777.8 887.9 L778.6 882.38 L779.4 877.27 L780.2 872.58 L781 868.34 L781.8 864.59 L782.6 861.34 L783.4 858.62 L784.2 856.46 L785 854.89 L785.8 853.93 L786.6 853.6 L787.67 854.01 L788.73 855.2 L789.8 857.09 L790.87 859.6 L791.93 862.68 L793 866.24 L794.07 870.22 L795.13 874.54 L796.2 879.13 L797.27 883.92 L798.33 888.83 L799.4 893.8 L800.45 898.61 L801.5 903.21 L802.55 907.57 L803.6 911.65 L804.65 915.4 L805.7 918.79 L806.75 921.77 L807.8 924.3 L808.85 926.34 L809.9 927.84 L810.95 928.78 L812 929.1 L813.14 928.73 L814.28 927.66 L815.42 925.97 L816.57 923.72 L817.71 920.98 L818.85 917.81 L819.99 914.3 L821.13 910.49 L822.28 906.48 L823.42 902.31 L824.56 898.06 L825.7 893.8 L826.43 891.16 L827.15 888.66 L827.88 886.3 L828.6 884.11 L829.33 882.11 L830.05 880.31 L830.77 878.73 L831.5 877.41 L832.23 876.34 L832.95 875.55 L833.67 875.07 L834.4 874.9 L835.27 875.08 L836.15 875.62 L837.02 876.48 L837.9 877.62 L838.77 879.04 L839.65 880.68 L840.52 882.53 L841.4 884.55 L842.27 886.72 L843.15 889 L844.02 891.37 L844.9 893.8 L846.19 897.37 L847.48 900.84 L848.77 904.16 L850.07 907.3 L851.36 910.22 L852.65 912.87 L853.94 915.22 L855.23 917.23 L856.52 918.87 L857.82 920.08 L859.11 920.84 L860.4 921.1 L861.25 920.8 L862.1 919.94 L862.95 918.59 L863.8 916.79 L864.65 914.61 L865.5 912.12 L866.35 909.37 L867.2 906.41 L868.05 903.32 L868.9 900.15 L869.75 896.95 L870.6 893.8 L871.66 890.04 L872.72 886.5 L873.77 883.23 L874.83 880.22 L875.89 877.5 L876.95 875.09 L878.01 872.99 L879.07 871.24 L880.12 869.85 L881.18 868.83 L882.24 868.21 L883.3 868 L884.06 868.22 L884.82 868.85 L885.57 869.88 L886.33 871.29 L887.09 873.06 L887.85 875.17 L888.61 877.6 L889.37 880.32 L890.12 883.32 L890.88 886.58 L891.64 890.08 L892.4 893.8 L893.54 899.61 L894.68 905.47 L895.83 911.27 L896.97 916.91 L898.11 922.28 L899.25 927.28 L900.39 931.79 L901.53 935.73 L902.67 938.97 L903.82 941.42 L904.96 942.96 L906.1 943.5 L906.91 943 L907.72 941.57 L908.52 939.28 L909.33 936.22 L910.14 932.47 L910.95 928.11 L911.76 923.22 L912.57 917.89 L913.38 912.2 L914.18 906.24 L914.99 900.07 L915.8 893.8 L916.81 886.05 L917.82 878.57 L918.82 871.44 L919.83 864.73 L920.84 858.53 L921.85 852.91 L922.86 847.94 L923.87 843.7 L924.88 840.27 L925.88 837.73 L926.89 836.14 L927.9 835.6 L928.5 836.13 L929.1 837.69 L929.7 840.19 L930.3 843.58 L930.9 847.77 L931.5 852.7 L932.1 858.29 L932.7 864.48 L933.3 871.2 L933.9 878.37 L934.5 885.93 L935.1 893.8 L935.92 904.67 L936.73 915.4 L937.55 925.84 L938.37 935.82 L939.18 945.21 L940 953.84 L940.82 961.56 L941.63 968.22 L942.45 973.67 L943.27 977.75 L944.08 980.31 L944.9 981.2 L945.89 980.35 L946.88 977.9 L947.88 973.98 L948.87 968.71 L949.86 962.23 L950.85 954.66 L951.84 946.14 L952.83 936.8 L953.82 926.76 L954.82 916.16 L955.81 905.13 L956.8 893.8" fill="none" stroke="#c8107a" stroke-width="2" stroke-linejoin="round"/>
<rect x="48.9" y="1488.4" width="28.2" height="946.9" fill="#bbd4ed"/>
<rect x="95.27" y="1488.4" width="28.2" height="946.9" fill="#bbd4ed"/>
<rect x="141.64" y="1488.4" width="28.2" height="946.9" fill="#bbd4ed"/>
<rect x="188.01" y="1488.4" width="28.2" height="946.9" fill="#bbd4ed"/>
<rect x="234.38" y="1488.4" width="28.2" height="946.9" fill="#bbd4ed"/>
<rect x="280.75" y="1488.4" width="28.2" height="946.9" fill="#bbd4ed"/>
<rect x="327.12" y="1488.4" width="28.2" height="946.9" fill="#bbd4ed"/>
<rect x="373.49" y="1488.4" width="28.2" height="946.9" fill="#bbd4ed"/>
<rect x="419.86" y="1488.4" width="28.2" height="946.9" fill="#bbd4ed"/>
<rect x="466.23" y="1488.4" width="28.2" height="946.9" fill="#bbd4ed"/>
<rect x="512.6" y="1488.4" width="28.2" height="946.9" fill="#bbd4ed"/>
<rect x="558.97" y="1488.4" width="28.2" height="946.9" fill="#bbd4ed"/>
<rect x="605.34" y="1488.4" width="28.2" height="946.9" fill="#bbd4ed"/>
<rect x="651.71" y="1488.4" width="28.2" height="946.9" fill="#bbd4ed"/>
<rect x="698.08" y="1488.4" width="28.2" height="946.9" fill="#bbd4ed"/>
<rect x="744.45" y="1488.4" width="28.2" height="946.9" fill="#bbd4ed"/>
<path d="M25.4 1259.4 H35.5 V1615.2 H25.4" fill="none" stroke="#1a94d4" stroke-width="2"/><line x1="25.4" y1="1310.23" x2="35.5" y2="1310.23" stroke="#1a94d4" stroke-width="2"/><line x1="25.4" y1="1361.06" x2="35.5" y2="1361.06" stroke="#1a94d4" stroke-width="2"/><line x1="25.4" y1="1411.89" x2="35.5" y2="1411.89" stroke="#1a94d4" stroke-width="2"/><line x1="25.4" y1="1462.71" x2="35.5" y2="1462.71" stroke="#1a94d4" stroke-width="2"/><line x1="25.4" y1="1513.54" x2="35.5" y2="1513.54" stroke="#1a94d4" stroke-width="2"/><line x1="25.4" y1="1564.37" x2="35.5" y2="1564.37" stroke="#1a94d4" stroke-width="2"/>
<path d="M25.4 2049.3 H35.5 V2405.8 H25.4" fill="none" stroke="#1a94d4" stroke-width="2"/><line x1="25.4" y1="2100.23" x2="35.5" y2="2100.23" stroke="#1a94d4" stroke-width="2"/><line x1="25.4" y1="2151.16" x2="35.5" y2="2151.16" stroke="#1a94d4" stroke-width="2"/><line x1="25.4" y1="2202.09" x2="35.5" y2="2202.09" stroke="#1a94d4" stroke-width="2"/><line x1="25.4" y1="2253.01" x2="35.5" y2="2253.01" stroke="#1a94d4" stroke-width="2"/><line x1="25.4" y1="2303.94" x2="35.5" y2="2303.94" stroke="#1a94d4" stroke-width="2"/><line x1="25.4" y1="2354.87" x2="35.5" y2="2354.87" stroke="#1a94d4" stroke-width="2"/>
<line x1="51.2" y1="1462.8" x2="772.4" y2="1462.8" stroke="#1a94d4" stroke-width="2"/>
<line x1="115.7" y1="1462.8" x2="115.7" y2="1376.41" stroke="#1a94d4" stroke-width="1.8"/>
<line x1="160.5" y1="1462.8" x2="160.5" y2="1311.71" stroke="#1a94d4" stroke-width="1.8"/>
<line x1="206.9" y1="1462.8" x2="206.9" y2="1273.98" stroke="#1a94d4" stroke-width="1.8"/>
<line x1="251.3" y1="1462.8" x2="251.3" y2="1259.71" stroke="#1a94d4" stroke-width="1.8"/>
<line x1="297.9" y1="1462.8" x2="297.9" y2="1268.73" stroke="#1a94d4" stroke-width="1.8"/>
<line x1="345.8" y1="1462.8" x2="345.8" y2="1306.85" stroke="#1a94d4" stroke-width="1.8"/>
<line x1="392.1" y1="1462.8" x2="392.1" y2="1373.28" stroke="#1a94d4" stroke-width="1.8"/>
<line x1="481" y1="1462.8" x2="481" y2="1547.84" stroke="#1a94d4" stroke-width="1.8"/>
<line x1="527" y1="1462.8" x2="527" y2="1601.1" stroke="#1a94d4" stroke-width="1.8"/>
<line x1="570" y1="1462.8" x2="570" y2="1620.96" stroke="#1a94d4" stroke-width="1.8"/>
<line x1="619.7" y1="1462.8" x2="619.7" y2="1602.94" stroke="#1a94d4" stroke-width="1.8"/>
<line x1="664.1" y1="1462.8" x2="664.1" y2="1547.68" stroke="#1a94d4" stroke-width="1.8"/>
<line x1="757.1" y1="1462.8" x2="757.1" y2="1360.97" stroke="#1a94d4" stroke-width="1.8"/>
<path d="M50.8 1525.46 L52.3 1521.63 L53.8 1517.8 L55.3 1513.98 L56.8 1510.15 L58.3 1506.33 L59.8 1502.52 L61.3 1498.71 L62.8 1494.91 L64.3 1491.12 L65.8 1487.34 L67.3 1483.58 L68.8 1479.82 L70.3 1476.08 L71.8 1472.36 L73.3 1468.66 L74.8 1464.97 L76.3 1461.31 L77.8 1457.66 L79.3 1454.04 L80.8 1450.44 L82.3 1446.87 L83.8 1443.33 L85.3 1439.81 L86.8 1436.32 L88.3 1432.87 L89.8 1429.44 L91.3 1426.05 L92.8 1422.69 L94.3 1419.37 L95.8 1416.09 L97.3 1412.84 L98.8 1409.64 L100.3 1406.47 L101.8 1403.35 L103.3 1400.27 L104.8 1397.24 L106.3 1394.24 L107.8 1391.29 L109.3 1388.38 L110.8 1385.51 L112.3 1382.68 L113.8 1379.89 L115.3 1377.14 L116.8 1374.43 L118.3 1371.76 L119.8 1369.13 L121.3 1366.54 L122.8 1363.98 L124.3 1361.47 L125.8 1358.99 L127.3 1356.56 L128.8 1354.16 L130.3 1351.79 L131.8 1349.47 L133.3 1347.18 L134.8 1344.93 L136.3 1342.71 L137.8 1340.53 L139.3 1338.38 L140.8 1336.27 L142.3 1334.2 L143.8 1332.16 L145.3 1330.15 L146.8 1328.18 L148.3 1326.24 L149.8 1324.34 L151.3 1322.47 L152.8 1320.63 L154.3 1318.83 L155.8 1317.06 L157.3 1315.31 L158.8 1313.61 L160.3 1311.93 L161.8 1310.28 L163.3 1308.67 L164.8 1307.09 L166.3 1305.53 L167.8 1304.01 L169.3 1302.52 L170.8 1301.05 L172.3 1299.62 L173.8 1298.21 L175.3 1296.84 L176.8 1295.49 L178.3 1294.17 L179.8 1292.87 L181.3 1291.61 L182.8 1290.37 L184.3 1289.16 L185.8 1287.98 L187.3 1286.82 L188.8 1285.69 L190.3 1284.58 L191.8 1283.5 L193.3 1282.45 L194.8 1281.42 L196.3 1280.41 L197.8 1279.43 L199.3 1278.47 L200.8 1277.54 L202.3 1276.63 L203.8 1275.74 L205.3 1274.88 L206.8 1274.04 L208.3 1273.22 L209.8 1272.43 L211.3 1271.65 L212.8 1270.9 L214.3 1270.17 L215.8 1269.47 L217.3 1268.79 L218.8 1268.13 L220.3 1267.49 L221.8 1266.88 L223.3 1266.29 L224.8 1265.72 L226.3 1265.18 L227.8 1264.66 L229.3 1264.17 L230.8 1263.7 L232.3 1263.25 L233.8 1262.83 L235.3 1262.43 L236.8 1262.05 L238.3 1261.7 L239.8 1261.38 L241.3 1261.08 L242.8 1260.8 L244.3 1260.55 L245.8 1260.33 L247.3 1260.12 L248.8 1259.95 L250.3 1259.8 L251.8 1259.67 L253.3 1259.57 L254.8 1259.5 L256.3 1259.45 L257.8 1259.43 L259.3 1259.43 L260.8 1259.46 L262.3 1259.51 L263.8 1259.59 L265.3 1259.7 L266.8 1259.84 L268.3 1260 L269.8 1260.18 L271.3 1260.4 L272.8 1260.64 L274.3 1260.9 L275.8 1261.2 L277.3 1261.52 L278.8 1261.87 L280.3 1262.24 L281.8 1262.65 L283.3 1263.08 L284.8 1263.54 L286.3 1264.02 L287.8 1264.54 L289.3 1265.08 L290.8 1265.65 L292.3 1266.25 L293.8 1266.87 L295.3 1267.53 L296.8 1268.21 L298.3 1268.92 L299.8 1269.67 L301.3 1270.43 L302.8 1271.23 L304.3 1272.06 L305.8 1272.92 L307.3 1273.8 L308.8 1274.72 L310.3 1275.66 L311.8 1276.63 L313.3 1277.64 L314.8 1278.67 L316.3 1279.73 L317.8 1280.83 L319.3 1281.95 L320.8 1283.1 L322.3 1284.28 L323.8 1285.5 L325.3 1286.74 L326.8 1288.02 L328.3 1289.32 L329.8 1290.66 L331.3 1292.02 L332.8 1293.42 L334.3 1294.85 L335.8 1296.31 L337.3 1297.8 L338.8 1299.32 L340.3 1300.88 L341.8 1302.46 L343.3 1304.08 L344.8 1305.73 L346.3 1307.41 L347.8 1309.12 L349.3 1310.87 L350.8 1312.64 L352.3 1314.45 L353.8 1316.29 L355.3 1318.16 L356.8 1320.06 L358.3 1321.99 L359.8 1323.95 L361.3 1325.94 L362.8 1327.97 L364.3 1330.02 L365.8 1332.1 L367.3 1334.21 L368.8 1336.36 L370.3 1338.53 L371.8 1340.73 L373.3 1342.95 L374.8 1345.21 L376.3 1347.5 L377.8 1349.81 L379.3 1352.16 L380.8 1354.53 L382.3 1356.93 L383.8 1359.35 L385.3 1361.81 L386.8 1364.29 L388.3 1366.8 L389.8 1369.33 L391.3 1371.9 L392.8 1374.49 L394.3 1377.1 L395.8 1379.75 L397.3 1382.42 L398.8 1385.11 L400.3 1387.83 L401.8 1390.58 L403.3 1393.35 L404.8 1396.15 L406.3 1398.97 L407.8 1401.82 L409.3 1404.69 L410.8 1407.59 L412.3 1410.51 L413.8 1413.45 L415.3 1416.42 L416.8 1419.42 L418.3 1422.43 L419.8 1425.48 L421.3 1428.54 L422.8 1431.63 L424.3 1434.74 L425.8 1437.87 L427.3 1441.03 L428.8 1444.21 L430.3 1447.41 L431.8 1450.63 L433.3 1453.88 L434.8 1457.14 L436.3 1460.43 L437.8 1463.72 L439.3 1467.03 L440.8 1470.35 L442.3 1473.67 L443.8 1477 L445.3 1480.34 L446.8 1483.67 L448.3 1487 L449.8 1490.32 L451.3 1493.64 L452.8 1496.93 L454.3 1500.19 L455.8 1503.41 L457.3 1506.59 L458.8 1509.7 L460.3 1512.74 L461.8 1515.71 L463.3 1518.59 L464.8 1521.4 L466.3 1524.13 L467.8 1526.79 L469.3 1529.38 L470.8 1531.92 L472.3 1534.39 L473.8 1536.82 L475.3 1539.19 L476.8 1541.52 L478.3 1543.81 L479.8 1546.06 L481.3 1548.28 L482.8 1550.47 L484.3 1552.64 L485.8 1554.77 L487.3 1556.88 L488.8 1558.95 L490.3 1560.99 L491.8 1563.01 L493.3 1564.99 L494.8 1566.95 L496.3 1568.87 L497.8 1570.76 L499.3 1572.62 L500.8 1574.45 L502.3 1576.25 L503.8 1578.01 L505.3 1579.75 L506.8 1581.45 L508.3 1583.12 L509.8 1584.75 L511.3 1586.36 L512.8 1587.92 L514.3 1589.46 L515.8 1590.96 L517.3 1592.43 L518.8 1593.87 L520.3 1595.27 L521.8 1596.64 L523.3 1597.97 L524.8 1599.27 L526.3 1600.53 L527.8 1601.75 L529.3 1602.95 L530.8 1604.1 L532.3 1605.22 L533.8 1606.3 L535.3 1607.35 L536.8 1608.36 L538.3 1609.34 L539.8 1610.27 L541.3 1611.17 L542.8 1612.04 L544.3 1612.86 L545.8 1613.65 L547.3 1614.4 L548.8 1615.11 L550.3 1615.78 L551.8 1616.42 L553.3 1617.01 L554.8 1617.57 L556.3 1618.09 L557.8 1618.56 L559.3 1619 L560.8 1619.4 L562.3 1619.76 L563.8 1620.07 L565.3 1620.35 L566.8 1620.59 L568.3 1620.78 L569.8 1620.94 L571.3 1621.05 L572.8 1621.12 L574.3 1621.15 L575.8 1621.14 L577.3 1621.09 L578.8 1620.99 L580.3 1620.86 L581.8 1620.68 L583.3 1620.47 L584.8 1620.21 L586.3 1619.91 L587.8 1619.57 L589.3 1619.2 L590.8 1618.78 L592.3 1618.32 L593.8 1617.82 L595.3 1617.28 L596.8 1616.7 L598.3 1616.08 L599.8 1615.42 L601.3 1614.72 L602.8 1613.98 L604.3 1613.2 L605.8 1612.38 L607.3 1611.53 L608.8 1610.63 L610.3 1609.69 L611.8 1608.72 L613.3 1607.7 L614.8 1606.65 L616.3 1605.56 L617.8 1604.43 L619.3 1603.26 L620.8 1602.05 L622.3 1600.8 L623.8 1599.52 L625.3 1598.19 L626.8 1596.83 L628.3 1595.43 L629.8 1593.99 L631.3 1592.51 L632.8 1591 L634.3 1589.45 L635.8 1587.85 L637.3 1586.21 L638.8 1584.52 L640.3 1582.78 L641.8 1581 L643.3 1579.15 L644.8 1577.25 L646.3 1575.3 L647.8 1573.28 L649.3 1571.2 L650.8 1569.05 L652.3 1566.83 L653.8 1564.55 L655.3 1562.21 L656.8 1559.82 L658.3 1557.38 L659.8 1554.9 L661.3 1552.4 L662.8 1549.88 L664.3 1547.34 L665.8 1544.8 L667.3 1542.26 L668.8 1539.7 L670.3 1537.14 L671.8 1534.55 L673.3 1531.95 L674.8 1529.32 L676.3 1526.66 L677.8 1523.97 L679.3 1521.25 L680.8 1518.48 L682.3 1515.67 L683.8 1512.83 L685.3 1509.96 L686.8 1507.07 L688.3 1504.15 L689.8 1501.21 L691.3 1498.26 L692.8 1495.3 L694.3 1492.34 L695.8 1489.38 L697.3 1486.42 L698.8 1483.47 L700.3 1480.52 L701.8 1477.57 L703.3 1474.62 L704.8 1471.67 L706.3 1468.72 L707.8 1465.77 L709.3 1462.81 L710.8 1459.85 L712.3 1456.89 L713.8 1453.91 L715.3 1450.93 L716.8 1447.95 L718.3 1444.95 L719.8 1441.94 L721.3 1438.92 L722.8 1435.89 L724.3 1432.84 L725.8 1429.78 L727.3 1426.71 L728.8 1423.62 L730.3 1420.51 L731.8 1417.38 L733.3 1414.24 L734.8 1411.07 L736.3 1407.88 L737.8 1404.68 L739.3 1401.44 L740.8 1398.19 L742.3 1394.91 L743.8 1391.6 L745.3 1388.26 L746.8 1384.9 L748.3 1381.51 L749.8 1378.09 L751.3 1374.63 L752.8 1371.15 L754.3 1367.63 L755.8 1364.08 L757.3 1360.49 L758.8 1356.87 L760.3 1353.2 L761.8 1349.51 L763.3 1345.77 L764.8 1341.99 L766.3 1338.17 L767.8 1334.31 L769.3 1330.41 L770.8 1326.46 L772.3 1322.47 L773.8 1318.43 L775.3 1314.35 L775.6 1313.53" fill="none" stroke="#c8107a" stroke-width="2"/>
<line x1="100.4" y1="1245" x2="100.4" y2="1406.26" stroke="#1d1d1b" stroke-width="1.6"/>
<g fill="none" stroke-linecap="round">
<path d="M391.3 2302.5 C392.07 2305.63 393.3 2316.08 395.9 2321.3 C398.5 2326.52 404.28 2330.42 406.9 2333.8 C409.52 2337.18 408.48 2339.78 411.6 2341.6 C414.72 2343.42 421.7 2344.18 425.6 2344.7 C429.5 2345.22 433.43 2344.7 435 2344.7" stroke="#fff" stroke-width="1.6" stroke-opacity="0.7" transform="translate(0.8,0.8)"/>
<path d="M391.3 2302.5 C392.07 2305.63 393.3 2316.08 395.9 2321.3 C398.5 2326.52 404.28 2330.42 406.9 2333.8 C409.52 2337.18 408.48 2339.78 411.6 2341.6 C414.72 2343.42 421.7 2344.18 425.6 2344.7 C429.5 2345.22 433.43 2344.7 435 2344.7" stroke="#5f636a" stroke-width="1.3" stroke-opacity="0.7"/>
<path d="M411.6 2341.6 C411.33 2339 409.48 2331.22 410 2326 C410.52 2320.78 411.83 2314.73 414.7 2310.3 C417.57 2305.87 422.52 2301.62 427.2 2299.4 C431.88 2297.18 437.33 2297.27 442.8 2297 C448.27 2296.73 456.62 2296.37 460 2297.8 C463.38 2299.23 462.58 2304.3 463.1 2305.6" stroke="#fff" stroke-width="1.6" stroke-opacity="0.7" transform="translate(0.8,0.8)"/>
<path d="M411.6 2341.6 C411.33 2339 409.48 2331.22 410 2326 C410.52 2320.78 411.83 2314.73 414.7 2310.3 C417.57 2305.87 422.52 2301.62 427.2 2299.4 C431.88 2297.18 437.33 2297.27 442.8 2297 C448.27 2296.73 456.62 2296.37 460 2297.8 C463.38 2299.23 462.58 2304.3 463.1 2305.6" stroke="#5f636a" stroke-width="1.3" stroke-opacity="0.7"/>
<path d="M408.4 2343.1 C405.55 2344.15 396.5 2346.27 391.3 2349.4 C386.1 2352.53 380.6 2357.48 377.2 2361.9 C373.8 2366.32 371.42 2371.48 370.9 2375.9 C370.38 2380.32 371.75 2384.75 374.1 2388.4 C376.45 2392.05 382.92 2395.2 385 2397.8 C387.08 2400.4 386.33 2402.97 386.6 2404" stroke="#fff" stroke-width="1.6" stroke-opacity="0.7" transform="translate(0.8,0.8)"/>
<path d="M408.4 2343.1 C405.55 2344.15 396.5 2346.27 391.3 2349.4 C386.1 2352.53 380.6 2357.48 377.2 2361.9 C373.8 2366.32 371.42 2371.48 370.9 2375.9 C370.38 2380.32 371.75 2384.75 374.1 2388.4 C376.45 2392.05 382.92 2395.2 385 2397.8 C387.08 2400.4 386.33 2402.97 386.6 2404" stroke="#5f636a" stroke-width="1.3" stroke-opacity="0.7"/>
<path d="M516.3 2361.9 C513.17 2363.47 503.75 2369.48 497.5 2371.3 C491.25 2373.12 484.53 2373.33 478.8 2372.8 C473.07 2372.27 467.02 2370.43 463.1 2368.1 C459.18 2365.77 456.85 2362.43 455.3 2358.8 C453.75 2355.17 453.53 2351.52 453.8 2346.3 C454.07 2341.08 454.82 2333.75 456.9 2327.5 C458.98 2321.25 462.65 2314.78 466.3 2308.8 C469.95 2302.82 474.12 2296.82 478.8 2291.6 C483.48 2286.38 489.72 2281.15 494.4 2277.5 C499.08 2273.85 503.25 2271.52 506.9 2269.7 C510.55 2267.88 510.95 2268.42 516.3 2266.6 C521.65 2264.78 531.3 2261.15 539 2258.8 C546.7 2256.45 555.98 2253.03 562.5 2252.5 C569.02 2251.97 574.32 2253.25 578.1 2255.6 C581.88 2257.95 584.15 2262.95 585.2 2266.6 C586.25 2270.25 584.53 2275.68 584.4 2277.5" stroke="#fff" stroke-width="1.6" stroke-opacity="0.7" transform="translate(0.8,0.8)"/>
<path d="M516.3 2361.9 C513.17 2363.47 503.75 2369.48 497.5 2371.3 C491.25 2373.12 484.53 2373.33 478.8 2372.8 C473.07 2372.27 467.02 2370.43 463.1 2368.1 C459.18 2365.77 456.85 2362.43 455.3 2358.8 C453.75 2355.17 453.53 2351.52 453.8 2346.3 C454.07 2341.08 454.82 2333.75 456.9 2327.5 C458.98 2321.25 462.65 2314.78 466.3 2308.8 C469.95 2302.82 474.12 2296.82 478.8 2291.6 C483.48 2286.38 489.72 2281.15 494.4 2277.5 C499.08 2273.85 503.25 2271.52 506.9 2269.7 C510.55 2267.88 510.95 2268.42 516.3 2266.6 C521.65 2264.78 531.3 2261.15 539 2258.8 C546.7 2256.45 555.98 2253.03 562.5 2252.5 C569.02 2251.97 574.32 2253.25 578.1 2255.6 C581.88 2257.95 584.15 2262.95 585.2 2266.6 C586.25 2270.25 584.53 2275.68 584.4 2277.5" stroke="#5f636a" stroke-width="1.3" stroke-opacity="0.7"/>
<path d="M453.8 2405.6 C456.4 2406.25 463.68 2409.23 469.4 2409.5 C475.12 2409.77 482.37 2408.88 488.1 2407.2 C493.83 2405.52 499.1 2402.27 503.8 2399.4 C508.5 2396.53 514.22 2391.57 516.3 2390" stroke="#fff" stroke-width="1.6" stroke-opacity="0.7" transform="translate(0.8,0.8)"/>
<path d="M453.8 2405.6 C456.4 2406.25 463.68 2409.23 469.4 2409.5 C475.12 2409.77 482.37 2408.88 488.1 2407.2 C493.83 2405.52 499.1 2402.27 503.8 2399.4 C508.5 2396.53 514.22 2391.57 516.3 2390" stroke="#5f636a" stroke-width="1.3" stroke-opacity="0.7"/>
<path d="M565.6 2302.5 C568.47 2302.75 577.85 2302.18 582.8 2304 C587.75 2305.82 592.82 2309.48 595.3 2313.4 C597.78 2317.32 597.95 2323.07 597.7 2327.5 C597.45 2331.93 595.5 2336.87 593.8 2340 C592.1 2343.13 588.55 2345.25 587.5 2346.3" stroke="#fff" stroke-width="1.6" stroke-opacity="0.7" transform="translate(0.8,0.8)"/>
<path d="M565.6 2302.5 C568.47 2302.75 577.85 2302.18 582.8 2304 C587.75 2305.82 592.82 2309.48 595.3 2313.4 C597.78 2317.32 597.95 2323.07 597.7 2327.5 C597.45 2331.93 595.5 2336.87 593.8 2340 C592.1 2343.13 588.55 2345.25 587.5 2346.3" stroke="#5f636a" stroke-width="1.3" stroke-opacity="0.7"/>
<path d="M535.9 2352.5 C534.08 2354.58 528.9 2360.32 525 2365 C521.1 2369.68 516.15 2375.92 512.5 2380.6 C508.85 2385.28 504.67 2391.02 503.1 2393.1" stroke="#fff" stroke-width="1.6" stroke-opacity="0.7" transform="translate(0.8,0.8)"/>
<path d="M535.9 2352.5 C534.08 2354.58 528.9 2360.32 525 2365 C521.1 2369.68 516.15 2375.92 512.5 2380.6 C508.85 2385.28 504.67 2391.02 503.1 2393.1" stroke="#5f636a" stroke-width="1.3" stroke-opacity="0.7"/>
<path d="M548.4 2333.8 C544.33 2336.83 532.07 2346.02 524 2352 C515.93 2357.98 504 2366.75 500 2369.7" stroke="#fff" stroke-width="1.6" stroke-opacity="0.7" transform="translate(0.8,0.8)"/>
<path d="M548.4 2333.8 C544.33 2336.83 532.07 2346.02 524 2352 C515.93 2357.98 504 2366.75 500 2369.7" stroke="#5f636a" stroke-width="1.3" stroke-opacity="0.7"/>
<path d="M587.5 2347.8 C584.63 2350.4 575.5 2358.45 570.3 2363.4 C565.1 2368.35 560.2 2372.55 556.3 2377.5 C552.4 2382.45 548.47 2388.68 546.9 2393.1 C545.33 2397.52 545.87 2401.52 546.9 2404 C547.93 2406.48 552.07 2407.33 553.1 2408" stroke="#fff" stroke-width="1.6" stroke-opacity="0.7" transform="translate(0.8,0.8)"/>
<path d="M587.5 2347.8 C584.63 2350.4 575.5 2358.45 570.3 2363.4 C565.1 2368.35 560.2 2372.55 556.3 2377.5 C552.4 2382.45 548.47 2388.68 546.9 2393.1 C545.33 2397.52 545.87 2401.52 546.9 2404 C547.93 2406.48 552.07 2407.33 553.1 2408" stroke="#5f636a" stroke-width="1.3" stroke-opacity="0.7"/>
<path d="M637.5 2333.8 C634.9 2336.4 626.85 2344.2 621.9 2349.4 C616.95 2354.6 611.72 2359.27 607.8 2365 C603.88 2370.73 600.22 2378.07 598.4 2383.8 C596.58 2389.53 596.37 2395.5 596.9 2399.4 C597.43 2403.3 600.82 2405.9 601.6 2407.2" stroke="#fff" stroke-width="1.6" stroke-opacity="0.7" transform="translate(0.8,0.8)"/>
<path d="M637.5 2333.8 C634.9 2336.4 626.85 2344.2 621.9 2349.4 C616.95 2354.6 611.72 2359.27 607.8 2365 C603.88 2370.73 600.22 2378.07 598.4 2383.8 C596.58 2389.53 596.37 2395.5 596.9 2399.4 C597.43 2403.3 600.82 2405.9 601.6 2407.2" stroke="#5f636a" stroke-width="1.3" stroke-opacity="0.7"/>
</g>
<path d="M48.9 2254.7 H89.6 V2151.6 H135.4 V2099.6 H226.8 V2049.9 H272.8 V2099.6 H364.5 V2151.6 H408.5 V2254.7 H453 V2359.5 H499.1 V2417 H639.8 V2359.5 H685.6 V2254.7 H730.7 V2151.6 H773" fill="none" stroke="#1a94d4" stroke-width="2"/>
<path d="M50.8 2316.98 L52.3 2312.99 L53.8 2309.02 L55.3 2305.07 L56.8 2301.13 L58.3 2297.22 L59.8 2293.33 L61.3 2289.46 L62.8 2285.61 L64.3 2281.78 L65.8 2277.98 L67.3 2274.2 L68.8 2270.44 L70.3 2266.7 L71.8 2262.99 L73.3 2259.31 L74.8 2255.65 L76.3 2252.01 L77.8 2248.41 L79.3 2244.82 L80.8 2241.27 L82.3 2237.75 L83.8 2234.25 L85.3 2230.78 L86.8 2227.34 L88.3 2223.93 L89.8 2220.55 L91.3 2217.2 L92.8 2213.88 L94.3 2210.6 L95.8 2207.35 L97.3 2204.12 L98.8 2200.94 L100.3 2197.78 L101.8 2194.66 L103.3 2191.58 L104.8 2188.53 L106.3 2185.52 L107.8 2182.54 L109.3 2179.6 L110.8 2176.69 L112.3 2173.83 L113.8 2171 L115.3 2168.21 L116.8 2165.46 L118.3 2162.75 L119.8 2160.08 L121.3 2157.45 L122.8 2154.86 L124.3 2152.31 L125.8 2149.81 L127.3 2147.34 L128.8 2144.91 L130.3 2142.53 L131.8 2140.18 L133.3 2137.87 L134.8 2135.6 L136.3 2133.37 L137.8 2131.17 L139.3 2129.01 L140.8 2126.88 L142.3 2124.79 L143.8 2122.73 L145.3 2120.71 L146.8 2118.72 L148.3 2116.76 L149.8 2114.84 L151.3 2112.94 L152.8 2111.08 L154.3 2109.25 L155.8 2107.44 L157.3 2105.67 L158.8 2103.92 L160.3 2102.21 L161.8 2100.52 L163.3 2098.85 L164.8 2097.22 L166.3 2095.61 L167.8 2094.02 L169.3 2092.47 L170.8 2090.93 L172.3 2089.43 L173.8 2087.95 L175.3 2086.5 L176.8 2085.07 L178.3 2083.67 L179.8 2082.3 L181.3 2080.95 L182.8 2079.64 L184.3 2078.34 L185.8 2077.08 L187.3 2075.84 L188.8 2074.63 L190.3 2073.45 L191.8 2072.29 L193.3 2071.17 L194.8 2070.06 L196.3 2068.99 L197.8 2067.94 L199.3 2066.93 L200.8 2065.94 L202.3 2064.97 L203.8 2064.04 L205.3 2063.13 L206.8 2062.25 L208.3 2061.4 L209.8 2060.58 L211.3 2059.79 L212.8 2059.02 L214.3 2058.28 L215.8 2057.57 L217.3 2056.89 L218.8 2056.24 L220.3 2055.62 L221.8 2055.02 L223.3 2054.46 L224.8 2053.92 L226.3 2053.41 L227.8 2052.93 L229.3 2052.48 L230.8 2052.06 L232.3 2051.67 L233.8 2051.31 L235.3 2050.97 L236.8 2050.67 L238.3 2050.39 L239.8 2050.15 L241.3 2049.94 L242.8 2049.75 L244.3 2049.6 L245.8 2049.47 L247.3 2049.37 L248.8 2049.31 L250.3 2049.27 L251.8 2049.27 L253.3 2049.29 L254.8 2049.35 L256.3 2049.43 L257.8 2049.55 L259.3 2049.69 L260.8 2049.87 L262.3 2050.08 L263.8 2050.31 L265.3 2050.58 L266.8 2050.88 L268.3 2051.2 L269.8 2051.56 L271.3 2051.94 L272.8 2052.36 L274.3 2052.8 L275.8 2053.28 L277.3 2053.78 L278.8 2054.32 L280.3 2054.88 L281.8 2055.47 L283.3 2056.1 L284.8 2056.75 L286.3 2057.43 L287.8 2058.14 L289.3 2058.88 L290.8 2059.65 L292.3 2060.45 L293.8 2061.27 L295.3 2062.13 L296.8 2063.01 L298.3 2063.93 L299.8 2064.87 L301.3 2065.84 L302.8 2066.84 L304.3 2067.87 L305.8 2068.93 L307.3 2070.02 L308.8 2071.13 L310.3 2072.28 L311.8 2073.45 L313.3 2074.65 L314.8 2075.88 L316.3 2077.13 L317.8 2078.42 L319.3 2079.73 L320.8 2081.08 L322.3 2082.45 L323.8 2083.85 L325.3 2085.27 L326.8 2086.73 L328.3 2088.21 L329.8 2089.72 L331.3 2091.26 L332.8 2092.82 L334.3 2094.42 L335.8 2096.04 L337.3 2097.69 L338.8 2099.36 L340.3 2101.07 L341.8 2102.8 L343.3 2104.56 L344.8 2106.35 L346.3 2108.16 L347.8 2110 L349.3 2111.87 L350.8 2113.77 L352.3 2115.69 L353.8 2117.64 L355.3 2119.62 L356.8 2121.62 L358.3 2123.66 L359.8 2125.71 L361.3 2127.8 L362.8 2129.91 L364.3 2132.05 L365.8 2134.22 L367.3 2136.41 L368.8 2138.63 L370.3 2140.87 L371.8 2143.15 L373.3 2145.45 L374.8 2147.77 L376.3 2150.12 L377.8 2152.5 L379.3 2154.9 L380.8 2157.34 L382.3 2159.79 L383.8 2162.28 L385.3 2164.78 L386.8 2167.32 L388.3 2169.88 L389.8 2172.47 L391.3 2175.08 L392.8 2177.72 L394.3 2180.38 L395.8 2183.08 L397.3 2185.79 L398.8 2188.53 L400.3 2191.3 L401.8 2194.09 L403.3 2196.91 L404.8 2199.76 L406.3 2202.63 L407.8 2205.52 L409.3 2208.44 L410.8 2211.39 L412.3 2214.35 L413.8 2217.34 L415.3 2220.35 L416.8 2223.37 L418.3 2226.41 L419.8 2229.46 L421.3 2232.53 L422.8 2235.6 L424.3 2238.68 L425.8 2241.77 L427.3 2244.87 L428.8 2247.96 L430.3 2251.06 L431.8 2254.16 L433.3 2257.26 L434.8 2260.35 L436.3 2263.43 L437.8 2266.51 L439.3 2269.58 L440.8 2272.64 L442.3 2275.68 L443.8 2278.71 L445.3 2281.73 L446.8 2284.72 L448.3 2287.7 L449.8 2290.65 L451.3 2293.58 L452.8 2296.49 L454.3 2299.37 L455.8 2302.22 L457.3 2305.04 L458.8 2307.84 L460.3 2310.6 L461.8 2313.34 L463.3 2316.05 L464.8 2318.73 L466.3 2321.38 L467.8 2324.01 L469.3 2326.6 L470.8 2329.16 L472.3 2331.69 L473.8 2334.19 L475.3 2336.65 L476.8 2339.09 L478.3 2341.5 L479.8 2343.87 L481.3 2346.21 L482.8 2348.52 L484.3 2350.79 L485.8 2353.03 L487.3 2355.24 L488.8 2357.41 L490.3 2359.55 L491.8 2361.66 L493.3 2363.73 L494.8 2365.76 L496.3 2367.76 L497.8 2369.73 L499.3 2371.66 L500.8 2373.55 L502.3 2375.4 L503.8 2377.22 L505.3 2379 L506.8 2380.75 L508.3 2382.45 L509.8 2384.12 L511.3 2385.75 L512.8 2387.34 L514.3 2388.9 L515.8 2390.41 L517.3 2391.88 L518.8 2393.32 L520.3 2394.71 L521.8 2396.07 L523.3 2397.38 L524.8 2398.65 L526.3 2399.88 L527.8 2401.07 L529.3 2402.22 L530.8 2403.33 L532.3 2404.39 L533.8 2405.41 L535.3 2406.39 L536.8 2407.32 L538.3 2408.22 L539.8 2409.06 L541.3 2409.87 L542.8 2410.62 L544.3 2411.34 L545.8 2412.01 L547.3 2412.63 L548.8 2413.21 L550.3 2413.74 L551.8 2414.23 L553.3 2414.66 L554.8 2415.06 L556.3 2415.4 L557.8 2415.7 L559.3 2415.95 L560.8 2416.15 L562.3 2416.31 L563.8 2416.41 L565.3 2416.47 L566.8 2416.48 L568.3 2416.43 L569.8 2416.34 L571.3 2416.2 L572.8 2416.02 L574.3 2415.78 L575.8 2415.5 L577.3 2415.17 L578.8 2414.79 L580.3 2414.36 L581.8 2413.89 L583.3 2413.38 L584.8 2412.82 L586.3 2412.21 L587.8 2411.56 L589.3 2410.86 L590.8 2410.12 L592.3 2409.34 L593.8 2408.51 L595.3 2407.64 L596.8 2406.73 L598.3 2405.77 L599.8 2404.78 L601.3 2403.74 L602.8 2402.66 L604.3 2401.54 L605.8 2400.38 L607.3 2399.17 L608.8 2397.93 L610.3 2396.65 L611.8 2395.33 L613.3 2393.97 L614.8 2392.58 L616.3 2391.14 L617.8 2389.67 L619.3 2388.16 L620.8 2386.61 L622.3 2385.03 L623.8 2383.41 L625.3 2381.76 L626.8 2380.07 L628.3 2378.34 L629.8 2376.58 L631.3 2374.78 L632.8 2372.95 L634.3 2371.09 L635.8 2369.19 L637.3 2367.26 L638.8 2365.3 L640.3 2363.31 L641.8 2361.28 L643.3 2359.22 L644.8 2357.13 L646.3 2355.01 L647.8 2352.86 L649.3 2350.68 L650.8 2348.47 L652.3 2346.23 L653.8 2343.96 L655.3 2341.66 L656.8 2339.33 L658.3 2336.98 L659.8 2334.59 L661.3 2332.18 L662.8 2329.75 L664.3 2327.28 L665.8 2324.79 L667.3 2322.28 L668.8 2319.73 L670.3 2317.17 L671.8 2314.58 L673.3 2311.96 L674.8 2309.32 L676.3 2306.65 L677.8 2303.97 L679.3 2301.26 L680.8 2298.52 L682.3 2295.77 L683.8 2292.99 L685.3 2290.19 L686.8 2287.37 L688.3 2284.53 L689.8 2281.66 L691.3 2278.78 L692.8 2275.88 L694.3 2272.96 L695.8 2270.01 L697.3 2267.05 L698.8 2264.07 L700.3 2261.08 L701.8 2258.06 L703.3 2255.03 L704.8 2251.98 L706.3 2248.92 L707.8 2245.83 L709.3 2242.73 L710.8 2239.61 L712.3 2236.47 L713.8 2233.31 L715.3 2230.13 L716.8 2226.92 L718.3 2223.7 L719.8 2220.46 L721.3 2217.19 L722.8 2213.9 L724.3 2210.58 L725.8 2207.24 L727.3 2203.88 L728.8 2200.49 L730.3 2197.08 L731.8 2193.64 L733.3 2190.17 L734.8 2186.67 L736.3 2183.15 L737.8 2179.6 L739.3 2176.02 L740.8 2172.41 L742.3 2168.77 L743.8 2165.1 L745.3 2161.4 L746.8 2157.67 L748.3 2153.9 L749.8 2150.1 L751.3 2146.27 L752.8 2142.4 L754.3 2138.5 L755.8 2134.57 L757.3 2130.6 L758.8 2126.59 L760.3 2122.55 L761.8 2118.47 L763.3 2114.35 L764.8 2110.2 L766.3 2106 L767.8 2101.77 L769.3 2097.5 L770.8 2093.19 L772.3 2088.83 L773 2086.79" fill="none" stroke="#c8107a" stroke-width="2"/>
<line x1="100.2" y1="2197.99" x2="100.2" y2="2455.5" stroke="#1d1d1b" stroke-width="1.6"/>
<clipPath id="sc"><path d="M48.2 1823.6 L48.2 1911.9 L66.7 1911.9 L66.7 1870.4 L103.8 1870.4 L103.8 1911.9 L120.9 1911.9 L120.9 1870.4 L167.3 1870.4 L167.3 1911.9 L184 1911.9 L184 1870.4 L214.4 1870.4 L214.4 1911.9 L233 1911.9 L233 1870.4 L304.2 1870.4 L304.2 1911.9 L322 1911.9 L322 1870.4 L351 1870.4 L351 1911.9 L367.3 1911.9 L367.3 1870.4 L380 1870.4 L380 1911.9 L398.4 1911.9 L398.4 1870.4 L414.8 1870.4 L414.8 1911.9 L430.4 1911.9 L430.4 1870.4 L460.9 1870.4 L460.9 1911.9 L489.8 1911.9 L489.8 1870.4 L507.6 1870.4 L507.6 1911.9 L673.5 1911.9 L673.5 1870.4 L692 1870.4 L692 1911.9 L708 1911.9 L708 1870.4 L747.7 1870.4 L747.7 1911.9 L763.6 1911.9 L763.6 1870.4 L772.6 1870.4 L772.6 1823.6 Z"/></clipPath>
<g clip-path="url(#sc)">
<rect x="40" y="1823.6" width="740" height="100" fill="#fff"/>
<rect x="48.9" y="1823.6" width="7.5" height="100" fill="#6aa2d8"/>
<rect x="59.8" y="1823.6" width="6" height="100" fill="#6aa2d8"/>
<rect x="69.2" y="1823.6" width="7.9" height="100" fill="#6aa2d8"/>
<rect x="95.27" y="1823.6" width="7.5" height="100" fill="#6aa2d8"/>
<rect x="106.17" y="1823.6" width="6" height="100" fill="#6aa2d8"/>
<rect x="115.57" y="1823.6" width="7.9" height="100" fill="#6aa2d8"/>
<rect x="141.64" y="1823.6" width="7.5" height="100" fill="#6aa2d8"/>
<rect x="152.54" y="1823.6" width="6" height="100" fill="#6aa2d8"/>
<rect x="161.94" y="1823.6" width="7.9" height="100" fill="#6aa2d8"/>
<rect x="188.01" y="1823.6" width="7.5" height="100" fill="#6aa2d8"/>
<rect x="198.91" y="1823.6" width="6" height="100" fill="#6aa2d8"/>
<rect x="208.31" y="1823.6" width="7.9" height="100" fill="#6aa2d8"/>
<rect x="234.38" y="1823.6" width="7.5" height="100" fill="#6aa2d8"/>
<rect x="245.28" y="1823.6" width="6" height="100" fill="#6aa2d8"/>
<rect x="254.68" y="1823.6" width="7.9" height="100" fill="#6aa2d8"/>
<rect x="280.75" y="1823.6" width="7.5" height="100" fill="#6aa2d8"/>
<rect x="291.65" y="1823.6" width="6" height="100" fill="#6aa2d8"/>
<rect x="301.05" y="1823.6" width="7.9" height="100" fill="#6aa2d8"/>
<rect x="327.12" y="1823.6" width="7.5" height="100" fill="#6aa2d8"/>
<rect x="338.02" y="1823.6" width="6" height="100" fill="#6aa2d8"/>
<rect x="347.42" y="1823.6" width="7.9" height="100" fill="#6aa2d8"/>
<rect x="373.49" y="1823.6" width="7.5" height="100" fill="#6aa2d8"/>
<rect x="384.39" y="1823.6" width="6" height="100" fill="#6aa2d8"/>
<rect x="393.79" y="1823.6" width="7.9" height="100" fill="#6aa2d8"/>
<rect x="419.86" y="1823.6" width="7.5" height="100" fill="#6aa2d8"/>
<rect x="430.76" y="1823.6" width="6" height="100" fill="#6aa2d8"/>
<rect x="440.16" y="1823.6" width="7.9" height="100" fill="#6aa2d8"/>
<rect x="466.23" y="1823.6" width="7.5" height="100" fill="#6aa2d8"/>
<rect x="477.13" y="1823.6" width="6" height="100" fill="#6aa2d8"/>
<rect x="486.53" y="1823.6" width="7.9" height="100" fill="#6aa2d8"/>
<rect x="512.6" y="1823.6" width="7.5" height="100" fill="#6aa2d8"/>
<rect x="523.5" y="1823.6" width="6" height="100" fill="#6aa2d8"/>
<rect x="532.9" y="1823.6" width="7.9" height="100" fill="#6aa2d8"/>
<rect x="558.97" y="1823.6" width="7.5" height="100" fill="#6aa2d8"/>
<rect x="569.87" y="1823.6" width="6" height="100" fill="#6aa2d8"/>
<rect x="579.27" y="1823.6" width="7.9" height="100" fill="#6aa2d8"/>
<rect x="605.34" y="1823.6" width="7.5" height="100" fill="#6aa2d8"/>
<rect x="616.24" y="1823.6" width="6" height="100" fill="#6aa2d8"/>
<rect x="625.64" y="1823.6" width="7.9" height="100" fill="#6aa2d8"/>
<rect x="651.71" y="1823.6" width="7.5" height="100" fill="#6aa2d8"/>
<rect x="662.61" y="1823.6" width="6" height="100" fill="#6aa2d8"/>
<rect x="672.01" y="1823.6" width="7.9" height="100" fill="#6aa2d8"/>
<rect x="698.08" y="1823.6" width="7.5" height="100" fill="#6aa2d8"/>
<rect x="708.98" y="1823.6" width="6" height="100" fill="#6aa2d8"/>
<rect x="718.38" y="1823.6" width="7.9" height="100" fill="#6aa2d8"/>
<rect x="744.45" y="1823.6" width="7.5" height="100" fill="#6aa2d8"/>
<rect x="755.35" y="1823.6" width="6" height="100" fill="#6aa2d8"/>
<rect x="764.75" y="1823.6" width="7.9" height="100" fill="#6aa2d8"/>
</g>
<path d="M48.2 1911.9 H66.7 V1870.4 H103.8 V1911.9 H120.9 V1870.4 H167.3 V1911.9 H184 V1870.4 H214.4 V1911.9 H233 V1870.4 H304.2 V1911.9 H322 V1870.4 H351 V1911.9 H367.3 V1870.4 H380 V1911.9 H398.4 V1870.4 H414.8 V1911.9 H430.4 V1870.4 H460.9 V1911.9 H489.8 V1870.4 H507.6 V1911.9 H673.5 V1870.4 H692 V1911.9 H708 V1870.4 H747.7 V1911.9 H763.6 V1870.4 H772.6" fill="none" stroke="#c8107a" stroke-width="2"/>
<rect x="48" y="1775.9" width="725" height="47.7" fill="#2b8bd1"/>
<rect x="48.5" y="1776.4" width="724" height="46.7" fill="none" stroke="#1ea2e6" stroke-width="1.2"/>
<line x1="85.3" y1="1775.9" x2="85.3" y2="1823.6" stroke="#1ea2e6" stroke-width="1" opacity="0.7"/>
<line x1="131.67" y1="1775.9" x2="131.67" y2="1823.6" stroke="#1ea2e6" stroke-width="1" opacity="0.7"/>
<line x1="178.04" y1="1775.9" x2="178.04" y2="1823.6" stroke="#1ea2e6" stroke-width="1" opacity="0.7"/>
<line x1="224.41" y1="1775.9" x2="224.41" y2="1823.6" stroke="#1ea2e6" stroke-width="1" opacity="0.7"/>
<line x1="270.78" y1="1775.9" x2="270.78" y2="1823.6" stroke="#1ea2e6" stroke-width="1" opacity="0.7"/>
<line x1="317.15" y1="1775.9" x2="317.15" y2="1823.6" stroke="#1ea2e6" stroke-width="1" opacity="0.7"/>
<line x1="363.52" y1="1775.9" x2="363.52" y2="1823.6" stroke="#1ea2e6" stroke-width="1" opacity="0.7"/>
<line x1="409.89" y1="1775.9" x2="409.89" y2="1823.6" stroke="#1ea2e6" stroke-width="1" opacity="0.7"/>
<line x1="456.26" y1="1775.9" x2="456.26" y2="1823.6" stroke="#1ea2e6" stroke-width="1" opacity="0.7"/>
<line x1="502.63" y1="1775.9" x2="502.63" y2="1823.6" stroke="#1ea2e6" stroke-width="1" opacity="0.7"/>
<line x1="549" y1="1775.9" x2="549" y2="1823.6" stroke="#1ea2e6" stroke-width="1" opacity="0.7"/>
<line x1="595.37" y1="1775.9" x2="595.37" y2="1823.6" stroke="#1ea2e6" stroke-width="1" opacity="0.7"/>
<line x1="641.74" y1="1775.9" x2="641.74" y2="1823.6" stroke="#1ea2e6" stroke-width="1" opacity="0.7"/>
<line x1="688.11" y1="1775.9" x2="688.11" y2="1823.6" stroke="#1ea2e6" stroke-width="1" opacity="0.7"/>
<line x1="734.48" y1="1775.9" x2="734.48" y2="1823.6" stroke="#1ea2e6" stroke-width="1" opacity="0.7"/>
<linearGradient id="ag0" gradientUnits="userSpaceOnUse" x1="0" y1="1314.9" x2="0" y2="1434.5"><stop offset="0" stop-color="#ffe212"/><stop offset="0.2" stop-color="#fdd014"/><stop offset="0.4" stop-color="#f8a617"/><stop offset="0.6" stop-color="#f07c1a"/><stop offset="0.75" stop-color="#ec5a1b"/><stop offset="0.88" stop-color="#e9401b"/><stop offset="1" stop-color="#e3121b"/></linearGradient>
<path d="M873.2 1314.9 H889.3 V1404.2 H908.8 L881.3 1434.5 L854.4 1404.2 H873.2 Z" fill="url(#ag0)"/>
<line x1="873.2" y1="1326.06" x2="889.3" y2="1326.06" stroke="#fff" stroke-opacity="0.35" stroke-width="0.8"/>
<line x1="873.2" y1="1337.23" x2="889.3" y2="1337.23" stroke="#fff" stroke-opacity="0.35" stroke-width="0.8"/>
<line x1="873.2" y1="1348.39" x2="889.3" y2="1348.39" stroke="#fff" stroke-opacity="0.35" stroke-width="0.8"/>
<line x1="873.2" y1="1359.55" x2="889.3" y2="1359.55" stroke="#fff" stroke-opacity="0.35" stroke-width="0.8"/>
<line x1="873.2" y1="1370.71" x2="889.3" y2="1370.71" stroke="#fff" stroke-opacity="0.35" stroke-width="0.8"/>
<line x1="873.2" y1="1381.88" x2="889.3" y2="1381.88" stroke="#fff" stroke-opacity="0.35" stroke-width="0.8"/>
<line x1="873.2" y1="1393.04" x2="889.3" y2="1393.04" stroke="#fff" stroke-opacity="0.35" stroke-width="0.8"/>
<line x1="862.6" y1="1413.67" x2="900" y2="1413.67" stroke="#fff" stroke-opacity="0.35" stroke-width="0.8"/>
<line x1="871.1" y1="1423.14" x2="891.5" y2="1423.14" stroke="#fff" stroke-opacity="0.35" stroke-width="0.8"/>
<linearGradient id="ag1" gradientUnits="userSpaceOnUse" x1="0" y1="1505.5" x2="0" y2="1632.3"><stop offset="0" stop-color="#ffe212"/><stop offset="0.2" stop-color="#fdd014"/><stop offset="0.4" stop-color="#f8a617"/><stop offset="0.6" stop-color="#f07c1a"/><stop offset="0.75" stop-color="#ec5a1b"/><stop offset="0.88" stop-color="#e9401b"/><stop offset="1" stop-color="#e3121b"/></linearGradient>
<path d="M873.2 1505.5 H889.3 V1601.4 H908.8 L881.3 1632.3 L854.4 1601.4 H873.2 Z" fill="url(#ag1)"/>
<line x1="873.2" y1="1516.16" x2="889.3" y2="1516.16" stroke="#fff" stroke-opacity="0.35" stroke-width="0.8"/>
<line x1="873.2" y1="1526.81" x2="889.3" y2="1526.81" stroke="#fff" stroke-opacity="0.35" stroke-width="0.8"/>
<line x1="873.2" y1="1537.47" x2="889.3" y2="1537.47" stroke="#fff" stroke-opacity="0.35" stroke-width="0.8"/>
<line x1="873.2" y1="1548.12" x2="889.3" y2="1548.12" stroke="#fff" stroke-opacity="0.35" stroke-width="0.8"/>
<line x1="873.2" y1="1558.78" x2="889.3" y2="1558.78" stroke="#fff" stroke-opacity="0.35" stroke-width="0.8"/>
<line x1="873.2" y1="1569.43" x2="889.3" y2="1569.43" stroke="#fff" stroke-opacity="0.35" stroke-width="0.8"/>
<line x1="873.2" y1="1580.09" x2="889.3" y2="1580.09" stroke="#fff" stroke-opacity="0.35" stroke-width="0.8"/>
<line x1="873.2" y1="1590.74" x2="889.3" y2="1590.74" stroke="#fff" stroke-opacity="0.35" stroke-width="0.8"/>
<line x1="862.6" y1="1611.06" x2="900" y2="1611.06" stroke="#fff" stroke-opacity="0.35" stroke-width="0.8"/>
<line x1="871.1" y1="1620.71" x2="891.5" y2="1620.71" stroke="#fff" stroke-opacity="0.35" stroke-width="0.8"/>
<linearGradient id="ag2" gradientUnits="userSpaceOnUse" x1="0" y1="1800.3" x2="0" y2="1853.9"><stop offset="0" stop-color="#ffe212"/><stop offset="0.2" stop-color="#fdd014"/><stop offset="0.4" stop-color="#f8a617"/><stop offset="0.6" stop-color="#f07c1a"/><stop offset="0.75" stop-color="#ec5a1b"/><stop offset="0.88" stop-color="#e9401b"/><stop offset="1" stop-color="#e3121b"/></linearGradient>
<path d="M873.2 1800.3 H889.3 V1823 H908.8 L881.3 1853.9 L854.4 1823 H873.2 Z" fill="url(#ag2)"/>
<line x1="873.2" y1="1811.65" x2="889.3" y2="1811.65" stroke="#fff" stroke-opacity="0.35" stroke-width="0.8"/>
<line x1="862.6" y1="1832.66" x2="900" y2="1832.66" stroke="#fff" stroke-opacity="0.35" stroke-width="0.8"/>
<line x1="871.1" y1="1842.31" x2="891.5" y2="1842.31" stroke="#fff" stroke-opacity="0.35" stroke-width="0.8"/>
<linearGradient id="ag3" gradientUnits="userSpaceOnUse" x1="0" y1="1924" x2="0" y2="2009.1"><stop offset="0" stop-color="#ffe212"/><stop offset="0.2" stop-color="#fdd014"/><stop offset="0.4" stop-color="#f8a617"/><stop offset="0.6" stop-color="#f07c1a"/><stop offset="0.75" stop-color="#ec5a1b"/><stop offset="0.88" stop-color="#e9401b"/><stop offset="1" stop-color="#e3121b"/></linearGradient>
<path d="M873.2 1924 H889.3 V1978.2 H908.8 L881.3 2009.1 L854.4 1978.2 H873.2 Z" fill="url(#ag3)"/>
<line x1="873.2" y1="1934.84" x2="889.3" y2="1934.84" stroke="#fff" stroke-opacity="0.35" stroke-width="0.8"/>
<line x1="873.2" y1="1945.68" x2="889.3" y2="1945.68" stroke="#fff" stroke-opacity="0.35" stroke-width="0.8"/>
<line x1="873.2" y1="1956.52" x2="889.3" y2="1956.52" stroke="#fff" stroke-opacity="0.35" stroke-width="0.8"/>
<line x1="873.2" y1="1967.36" x2="889.3" y2="1967.36" stroke="#fff" stroke-opacity="0.35" stroke-width="0.8"/>
<line x1="862.6" y1="1987.86" x2="900" y2="1987.86" stroke="#fff" stroke-opacity="0.35" stroke-width="0.8"/>
<line x1="871.1" y1="1997.51" x2="891.5" y2="1997.51" stroke="#fff" stroke-opacity="0.35" stroke-width="0.8"/>
<linearGradient id="ag4" gradientUnits="userSpaceOnUse" x1="0" y1="2177.4" x2="0" y2="2227.5"><stop offset="0" stop-color="#ffe212"/><stop offset="0.2" stop-color="#fdd014"/><stop offset="0.4" stop-color="#f8a617"/><stop offset="0.6" stop-color="#f07c1a"/><stop offset="0.75" stop-color="#ec5a1b"/><stop offset="0.88" stop-color="#e9401b"/><stop offset="1" stop-color="#e3121b"/></linearGradient>
<path d="M873.2 2177.4 H889.3 V2196 H908.8 L881.3 2227.5 L854.4 2196 H873.2 Z" fill="url(#ag4)"/>
<line x1="873.2" y1="2186.7" x2="889.3" y2="2186.7" stroke="#fff" stroke-opacity="0.35" stroke-width="0.8"/>
<line x1="862.6" y1="2205.84" x2="900" y2="2205.84" stroke="#fff" stroke-opacity="0.35" stroke-width="0.8"/>
<line x1="871.1" y1="2215.69" x2="891.5" y2="2215.69" stroke="#fff" stroke-opacity="0.35" stroke-width="0.8"/>
<linearGradient id="ag5" gradientUnits="userSpaceOnUse" x1="0" y1="2346.8" x2="0" y2="2399.7"><stop offset="0" stop-color="#ffe212"/><stop offset="0.2" stop-color="#fdd014"/><stop offset="0.4" stop-color="#f8a617"/><stop offset="0.6" stop-color="#f07c1a"/><stop offset="0.75" stop-color="#ec5a1b"/><stop offset="0.88" stop-color="#e9401b"/><stop offset="1" stop-color="#e3121b"/></linearGradient>
<path d="M873.2 2346.8 H889.3 V2368.2 H908.8 L881.3 2399.7 L854.4 2368.2 H873.2 Z" fill="url(#ag5)"/>
<line x1="873.2" y1="2357.5" x2="889.3" y2="2357.5" stroke="#fff" stroke-opacity="0.35" stroke-width="0.8"/>
<line x1="862.6" y1="2378.04" x2="900" y2="2378.04" stroke="#fff" stroke-opacity="0.35" stroke-width="0.8"/>
<line x1="871.1" y1="2387.89" x2="891.5" y2="2387.89" stroke="#fff" stroke-opacity="0.35" stroke-width="0.8"/>
<text x="50.48" y="1820.8" font-family="'Liberation Sans', sans-serif" font-size="27.4" fill="#111" stroke="#111" stroke-width="0" textLength="35.71" lengthAdjust="spacingAndGlyphs">011</text>
<text x="89.85" y="1820.8" font-family="'Liberation Sans', sans-serif" font-size="27.4" fill="#111" stroke="#111" stroke-width="0" textLength="36.21" lengthAdjust="spacingAndGlyphs">101</text>
<text x="137.08" y="1820.8" font-family="'Liberation Sans', sans-serif" font-size="27.4" fill="#111" stroke="#111" stroke-width="0" textLength="37.2" lengthAdjust="spacingAndGlyphs">110</text>
<text x="182.71" y="1820.8" font-family="'Liberation Sans', sans-serif" font-size="27.4" fill="#111" stroke="#111" stroke-width="0" textLength="38.13" lengthAdjust="spacingAndGlyphs">110</text>
<text x="231.09" y="1820.8" font-family="'Liberation Sans', sans-serif" font-size="27.4" fill="#111" stroke="#111" stroke-width="0" textLength="32.7" lengthAdjust="spacingAndGlyphs">111</text>
<text x="275.71" y="1820.8" font-family="'Liberation Sans', sans-serif" font-size="27.4" fill="#111" stroke="#111" stroke-width="0" textLength="38.33" lengthAdjust="spacingAndGlyphs">110</text>
<text x="321.94" y="1820.8" font-family="'Liberation Sans', sans-serif" font-size="27.4" fill="#111" stroke="#111" stroke-width="0" textLength="38.27" lengthAdjust="spacingAndGlyphs">110</text>
<text x="368.83" y="1820.8" font-family="'Liberation Sans', sans-serif" font-size="27.4" fill="#111" stroke="#111" stroke-width="0" textLength="37.83" lengthAdjust="spacingAndGlyphs">101</text>
<text x="414.93" y="1820.8" font-family="'Liberation Sans', sans-serif" font-size="27.4" fill="#111" stroke="#111" stroke-width="0" textLength="35.09" lengthAdjust="spacingAndGlyphs">011</text>
<text x="461" y="1820.8" font-family="'Liberation Sans', sans-serif" font-size="27.4" fill="#111" stroke="#111" stroke-width="0" textLength="37.84" lengthAdjust="spacingAndGlyphs">001</text>
<text x="506.63" y="1819.1" font-family="'Liberation Sans', sans-serif" font-size="27.4" fill="#111" stroke="#111" stroke-width="0" textLength="40.58" lengthAdjust="spacingAndGlyphs">000</text>
<text x="552.53" y="1819.1" font-family="'Liberation Sans', sans-serif" font-size="27.4" fill="#111" stroke="#111" stroke-width="0" textLength="39.26" lengthAdjust="spacingAndGlyphs">000</text>
<text x="600.26" y="1820.8" font-family="'Liberation Sans', sans-serif" font-size="27.4" fill="#111" stroke="#111" stroke-width="0" textLength="38.17" lengthAdjust="spacingAndGlyphs">000</text>
<text x="646.2" y="1820.8" font-family="'Liberation Sans', sans-serif" font-size="27.4" fill="#111" stroke="#111" stroke-width="0" textLength="36.88" lengthAdjust="spacingAndGlyphs">001</text>
<text x="693.77" y="1820.8" font-family="'Liberation Sans', sans-serif" font-size="27.4" fill="#111" stroke="#111" stroke-width="0" textLength="36.19" lengthAdjust="spacingAndGlyphs">011</text>
<text x="735.99" y="1820.8" font-family="'Liberation Sans', sans-serif" font-size="27.4" fill="#111" stroke="#111" stroke-width="0" textLength="36.06" lengthAdjust="spacingAndGlyphs">101</text>
<text x="52.42" y="1727.7" font-family="'Liberation Sans', sans-serif" font-size="48.5" fill="#1d1d1b" stroke="#1d1d1b" stroke-width="0.6" textLength="25.69" lengthAdjust="spacingAndGlyphs">3</text>
<text x="94.25" y="1727.7" font-family="'Liberation Sans', sans-serif" font-size="48.5" fill="#1d1d1b" stroke="#1d1d1b" stroke-width="0.6" textLength="25.46" lengthAdjust="spacingAndGlyphs">5</text>
<text x="138.48" y="1727.7" font-family="'Liberation Sans', sans-serif" font-size="48.5" fill="#1d1d1b" stroke="#1d1d1b" stroke-width="0.6" textLength="27.56" lengthAdjust="spacingAndGlyphs">6</text>
<text x="185.4" y="1727.7" font-family="'Liberation Sans', sans-serif" font-size="48.5" fill="#1d1d1b" stroke="#1d1d1b" stroke-width="0.6" textLength="26.71" lengthAdjust="spacingAndGlyphs">6</text>
<text x="232.82" y="1728.2" font-family="'Liberation Sans', sans-serif" font-size="48.5" fill="#1d1d1b" stroke="#1d1d1b" stroke-width="0.6" textLength="27.32" lengthAdjust="spacingAndGlyphs">7</text>
<text x="282.13" y="1727.7" font-family="'Liberation Sans', sans-serif" font-size="48.5" fill="#1d1d1b" stroke="#1d1d1b" stroke-width="0.6" textLength="27.77" lengthAdjust="spacingAndGlyphs">6</text>
<text x="329.36" y="1727.7" font-family="'Liberation Sans', sans-serif" font-size="48.5" fill="#1d1d1b" stroke="#1d1d1b" stroke-width="0.6" textLength="26.97" lengthAdjust="spacingAndGlyphs">6</text>
<text x="374.44" y="1727.7" font-family="'Liberation Sans', sans-serif" font-size="48.5" fill="#1d1d1b" stroke="#1d1d1b" stroke-width="0.6" textLength="26.24" lengthAdjust="spacingAndGlyphs">5</text>
<text x="422.52" y="1727.7" font-family="'Liberation Sans', sans-serif" font-size="48.5" fill="#1d1d1b" stroke="#1d1d1b" stroke-width="0.6" textLength="25.76" lengthAdjust="spacingAndGlyphs">3</text>
<text x="471.96" y="1728.2" font-family="'Liberation Sans', sans-serif" font-size="48.5" fill="#1d1d1b" stroke="#1d1d1b" stroke-width="0.6" textLength="18.74" lengthAdjust="spacingAndGlyphs">1</text>
<text x="514.51" y="1727.7" font-family="'Liberation Sans', sans-serif" font-size="48.5" fill="#1d1d1b" stroke="#1d1d1b" stroke-width="0.6" textLength="28.61" lengthAdjust="spacingAndGlyphs">0</text>
<text x="562.02" y="1727.7" font-family="'Liberation Sans', sans-serif" font-size="48.5" fill="#1d1d1b" stroke="#1d1d1b" stroke-width="0.6" textLength="25.65" lengthAdjust="spacingAndGlyphs">0</text>
<text x="608.38" y="1727.7" font-family="'Liberation Sans', sans-serif" font-size="48.5" fill="#1d1d1b" stroke="#1d1d1b" stroke-width="0.6" textLength="27.01" lengthAdjust="spacingAndGlyphs">0</text>
<text x="657.4" y="1728.2" font-family="'Liberation Sans', sans-serif" font-size="48.5" fill="#1d1d1b" stroke="#1d1d1b" stroke-width="0.6" textLength="19.17" lengthAdjust="spacingAndGlyphs">1</text>
<text x="703.06" y="1727.7" font-family="'Liberation Sans', sans-serif" font-size="48.5" fill="#1d1d1b" stroke="#1d1d1b" stroke-width="0.6" textLength="25.56" lengthAdjust="spacingAndGlyphs">3</text>
<text x="746.45" y="1727.7" font-family="'Liberation Sans', sans-serif" font-size="48.5" fill="#1d1d1b" stroke="#1d1d1b" stroke-width="0.6" textLength="26.56" lengthAdjust="spacingAndGlyphs">5</text>
<text x="52.42" y="1991.8" font-family="'Liberation Sans', sans-serif" font-size="48.5" fill="#1d1d1b" stroke="#1d1d1b" stroke-width="0.6" textLength="25.69" lengthAdjust="spacingAndGlyphs">3</text>
<text x="98.57" y="1991.8" font-family="'Liberation Sans', sans-serif" font-size="48.5" fill="#1d1d1b" stroke="#1d1d1b" stroke-width="0.6" textLength="25.69" lengthAdjust="spacingAndGlyphs">5</text>
<text x="143.86" y="1991.8" font-family="'Liberation Sans', sans-serif" font-size="48.5" fill="#1d1d1b" stroke="#1d1d1b" stroke-width="0.6" textLength="26.76" lengthAdjust="spacingAndGlyphs">6</text>
<text x="189.79" y="1991.8" font-family="'Liberation Sans', sans-serif" font-size="48.5" fill="#1d1d1b" stroke="#1d1d1b" stroke-width="0.6" textLength="26.53" lengthAdjust="spacingAndGlyphs">6</text>
<text x="241.45" y="1992.3" font-family="'Liberation Sans', sans-serif" font-size="48.5" fill="#1d1d1b" stroke="#1d1d1b" stroke-width="0.6" textLength="25.45" lengthAdjust="spacingAndGlyphs">7</text>
<text x="282.13" y="1991.8" font-family="'Liberation Sans', sans-serif" font-size="48.5" fill="#1d1d1b" stroke="#1d1d1b" stroke-width="0.6" textLength="27.77" lengthAdjust="spacingAndGlyphs">6</text>
<text x="329.36" y="1991.8" font-family="'Liberation Sans', sans-serif" font-size="48.5" fill="#1d1d1b" stroke="#1d1d1b" stroke-width="0.6" textLength="26.97" lengthAdjust="spacingAndGlyphs">6</text>
<text x="374.44" y="1991.8" font-family="'Liberation Sans', sans-serif" font-size="48.5" fill="#1d1d1b" stroke="#1d1d1b" stroke-width="0.6" textLength="26.24" lengthAdjust="spacingAndGlyphs">5</text>
<text x="422.52" y="1991.8" font-family="'Liberation Sans', sans-serif" font-size="48.5" fill="#1d1d1b" stroke="#1d1d1b" stroke-width="0.6" textLength="25.76" lengthAdjust="spacingAndGlyphs">3</text>
<text x="471.96" y="1992.3" font-family="'Liberation Sans', sans-serif" font-size="48.5" fill="#1d1d1b" stroke="#1d1d1b" stroke-width="0.6" textLength="18.74" lengthAdjust="spacingAndGlyphs">1</text>
<text x="514.51" y="1991.8" font-family="'Liberation Sans', sans-serif" font-size="48.5" fill="#1d1d1b" stroke="#1d1d1b" stroke-width="0.6" textLength="28.61" lengthAdjust="spacingAndGlyphs">0</text>
<text x="562.02" y="1991.8" font-family="'Liberation Sans', sans-serif" font-size="48.5" fill="#1d1d1b" stroke="#1d1d1b" stroke-width="0.6" textLength="25.65" lengthAdjust="spacingAndGlyphs">0</text>
<text x="607.84" y="1991.8" font-family="'Liberation Sans', sans-serif" font-size="48.5" fill="#1d1d1b" stroke="#1d1d1b" stroke-width="0.6" textLength="27.06" lengthAdjust="spacingAndGlyphs">0</text>
<text x="657.4" y="1992.3" font-family="'Liberation Sans', sans-serif" font-size="48.5" fill="#1d1d1b" stroke="#1d1d1b" stroke-width="0.6" textLength="19.17" lengthAdjust="spacingAndGlyphs">1</text>
<text x="703.14" y="1991.8" font-family="'Liberation Sans', sans-serif" font-size="48.5" fill="#1d1d1b" stroke="#1d1d1b" stroke-width="0.6" textLength="24.36" lengthAdjust="spacingAndGlyphs">3</text>
<text x="746.45" y="1991.8" font-family="'Liberation Sans', sans-serif" font-size="48.5" fill="#1d1d1b" stroke="#1d1d1b" stroke-width="0.6" textLength="26.56" lengthAdjust="spacingAndGlyphs">5</text>
<text x="-0.08" y="1276.8" font-family="'Liberation Sans', sans-serif" font-size="48.5" fill="#1d1d1b" stroke="#1d1d1b" stroke-width="0.6" textLength="26.54" lengthAdjust="spacingAndGlyphs">7</text>
<text x="-0.28" y="1327.9" font-family="'Liberation Sans', sans-serif" font-size="48.5" fill="#1d1d1b" stroke="#1d1d1b" stroke-width="0.6" textLength="26.36" lengthAdjust="spacingAndGlyphs">6</text>
<text x="-1.02" y="1379.5" font-family="'Liberation Sans', sans-serif" font-size="48.5" fill="#1d1d1b" stroke="#1d1d1b" stroke-width="0.6" textLength="25.27" lengthAdjust="spacingAndGlyphs">5</text>
<text x="-1.09" y="1431.2" font-family="'Liberation Sans', sans-serif" font-size="48.5" fill="#1d1d1b" stroke="#1d1d1b" stroke-width="0.6" textLength="26.49" lengthAdjust="spacingAndGlyphs">4</text>
<text x="0.66" y="1482.7" font-family="'Liberation Sans', sans-serif" font-size="48.5" fill="#1d1d1b" stroke="#1d1d1b" stroke-width="0.6" textLength="25.18" lengthAdjust="spacingAndGlyphs">3</text>
<text x="-1.52" y="1534.4" font-family="'Liberation Sans', sans-serif" font-size="48.5" fill="#1d1d1b" stroke="#1d1d1b" stroke-width="0.6" textLength="27.92" lengthAdjust="spacingAndGlyphs">2</text>
<text x="0.05" y="1585.6" font-family="'Liberation Sans', sans-serif" font-size="48.5" fill="#1d1d1b" stroke="#1d1d1b" stroke-width="0.6" textLength="17.84" lengthAdjust="spacingAndGlyphs">1</text>
<text x="4.22" y="1637.4" font-family="'Liberation Sans', sans-serif" font-size="48.5" fill="#1d1d1b" stroke="#1d1d1b" stroke-width="0.6" textLength="27" lengthAdjust="spacingAndGlyphs">0</text>
<text x="3.59" y="2067" font-family="'Liberation Sans', sans-serif" font-size="48.5" fill="#1d1d1b" stroke="#1d1d1b" stroke-width="0.6" textLength="25.19" lengthAdjust="spacingAndGlyphs">7</text>
<text x="-0.77" y="2117.9" font-family="'Liberation Sans', sans-serif" font-size="48.5" fill="#1d1d1b" stroke="#1d1d1b" stroke-width="0.6" textLength="26.89" lengthAdjust="spacingAndGlyphs">6</text>
<text x="-1.02" y="2169.5" font-family="'Liberation Sans', sans-serif" font-size="48.5" fill="#1d1d1b" stroke="#1d1d1b" stroke-width="0.6" textLength="25.27" lengthAdjust="spacingAndGlyphs">5</text>
<text x="-1.09" y="2221.2" font-family="'Liberation Sans', sans-serif" font-size="48.5" fill="#1d1d1b" stroke="#1d1d1b" stroke-width="0.6" textLength="26.49" lengthAdjust="spacingAndGlyphs">4</text>
<text x="0.75" y="2272.3" font-family="'Liberation Sans', sans-serif" font-size="48.5" fill="#1d1d1b" stroke="#1d1d1b" stroke-width="0.6" textLength="25.16" lengthAdjust="spacingAndGlyphs">3</text>
<text x="-1.52" y="2324" font-family="'Liberation Sans', sans-serif" font-size="48.5" fill="#1d1d1b" stroke="#1d1d1b" stroke-width="0.6" textLength="27.92" lengthAdjust="spacingAndGlyphs">2</text>
<text x="1.32" y="2375.2" font-family="'Liberation Sans', sans-serif" font-size="48.5" fill="#1d1d1b" stroke="#1d1d1b" stroke-width="0.6" textLength="16.09" lengthAdjust="spacingAndGlyphs">1</text>
<text x="4.15" y="2425.5" font-family="'Liberation Sans', sans-serif" font-size="48.5" fill="#1d1d1b" stroke="#1d1d1b" stroke-width="0.6" textLength="26.36" lengthAdjust="spacingAndGlyphs">0</text>
<text x="336.91" y="270.8" font-family="'Liberation Sans', sans-serif" font-size="47" fill="#1d1d1b" stroke="#1d1d1b" stroke-width="0.6" textLength="321.09" lengthAdjust="spacingAndGlyphs">onda portadora</text>
<text x="310.02" y="614.8" font-family="'Liberation Sans', sans-serif" font-size="47" fill="#1d1d1b" stroke="#1d1d1b" stroke-width="0.6" textLength="367.79" lengthAdjust="spacingAndGlyphs">onda moduladora</text>
<text x="218.01" y="1127" font-family="'Liberation Sans', sans-serif" font-size="47" fill="#1d1d1b" stroke="#1d1d1b" stroke-width="0.6" textLength="610.39" lengthAdjust="spacingAndGlyphs">onda de amplitude modulada</text>
<text x="102.93" y="1236.7" font-family="'Liberation Sans', sans-serif" font-size="47" fill="#1d1d1b" stroke="#1d1d1b" stroke-width="0.6" textLength="323.88" lengthAdjust="spacingAndGlyphs">sinal de entrada</text>
<text x="102.88" y="2495.3" font-family="'Liberation Sans', sans-serif" font-size="47" fill="#1d1d1b" stroke="#1d1d1b" stroke-width="0.6" textLength="268.14" lengthAdjust="spacingAndGlyphs">sinal de saída</text>
<text x="836.53" y="1241.2" font-family="'Liberation Sans', sans-serif" font-size="47" fill="#1d1d1b" stroke="#1d1d1b" stroke-width="0.6" textLength="91.48" lengthAdjust="spacingAndGlyphs">sinal</text>
<text x="771.66" y="1287.7" font-family="'Liberation Sans', sans-serif" font-size="47" fill="#1d1d1b" stroke="#1d1d1b" stroke-width="0.6" textLength="219.45" lengthAdjust="spacingAndGlyphs">de entrada</text>
<text x="799.39" y="1487.4" font-family="'Liberation Sans', sans-serif" font-size="47" fill="#1d1d1b" stroke="#1d1d1b" stroke-width="0.6" textLength="191.9" lengthAdjust="spacingAndGlyphs">mostraxe</text>
<text x="774.39" y="1678.2" font-family="'Liberation Sans', sans-serif" font-size="47" fill="#1d1d1b" stroke="#1d1d1b" stroke-width="0.6" textLength="249.4" lengthAdjust="spacingAndGlyphs">convertedor</text>
<text x="791.48" y="1724.6" font-family="'Liberation Sans', sans-serif" font-size="47" fill="#1d1d1b" stroke="#1d1d1b" stroke-width="0.6" textLength="213.34" lengthAdjust="spacingAndGlyphs">analóxico/</text>
<text x="836.73" y="1771" font-family="'Liberation Sans', sans-serif" font-size="47" fill="#1d1d1b" stroke="#1d1d1b" stroke-width="0.6" textLength="125.06" lengthAdjust="spacingAndGlyphs">dixital</text>
<text x="776.9" y="1903.4" font-family="'Liberation Sans', sans-serif" font-size="47" fill="#1d1d1b" stroke="#1d1d1b" stroke-width="0.6" textLength="245.45" lengthAdjust="spacingAndGlyphs">codificación</text>
<text x="764.2" y="2060.7" font-family="'Liberation Sans', sans-serif" font-size="47" fill="#1d1d1b" stroke="#1d1d1b" stroke-width="0.6" textLength="247.78" lengthAdjust="spacingAndGlyphs">convertedor</text>
<text x="816.82" y="2107.1" font-family="'Liberation Sans', sans-serif" font-size="47" fill="#1d1d1b" stroke="#1d1d1b" stroke-width="0.6" textLength="139.01" lengthAdjust="spacingAndGlyphs">dixital/</text>
<text x="789.6" y="2154.8" font-family="'Liberation Sans', sans-serif" font-size="47" fill="#1d1d1b" stroke="#1d1d1b" stroke-width="0.6" textLength="198.18" lengthAdjust="spacingAndGlyphs">analóxico</text>
<text x="787.53" y="2279" font-family="'Liberation Sans', sans-serif" font-size="47" fill="#1d1d1b" stroke="#1d1d1b" stroke-width="0.6" textLength="203.65" lengthAdjust="spacingAndGlyphs">filtro paso</text>
<text x="791.56" y="2326.2" font-family="'Liberation Sans', sans-serif" font-size="47" fill="#1d1d1b" stroke="#1d1d1b" stroke-width="0.6" textLength="191.85" lengthAdjust="spacingAndGlyphs">de banda</text>
<text x="838.46" y="2451.2" font-family="'Liberation Sans', sans-serif" font-size="47" fill="#1d1d1b" stroke="#1d1d1b" stroke-width="0.6" textLength="90.4" lengthAdjust="spacingAndGlyphs">sinal</text>
<text x="799.77" y="2496" font-family="'Liberation Sans', sans-serif" font-size="47" fill="#1d1d1b" stroke="#1d1d1b" stroke-width="0.6" textLength="166.83" lengthAdjust="spacingAndGlyphs">de saída</text>
</svg></body></html>
